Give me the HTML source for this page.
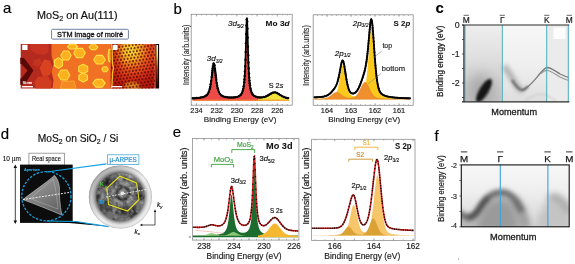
<!DOCTYPE html>
<html><head><meta charset="utf-8"><style>
html,body{margin:0;padding:0;background:#fff;width:575px;height:264px;overflow:hidden}
svg{display:block;font-family:"Liberation Sans", sans-serif;will-change:transform}
</style></head><body>
<svg width="575" height="264" viewBox="0 0 575 264">
<rect width="575" height="264" fill="#fff"/>
<text x="3.0" y="12.6" font-size="15" fill="#000" font-weight="normal" text-anchor="start"  stroke="#000" stroke-width="0.16">a</text>
<text x="173.6" y="13.8" font-size="15" fill="#000" font-weight="normal" text-anchor="start"  stroke="#000" stroke-width="0.16">b</text>
<text x="435.4" y="12.6" font-size="15" fill="#000" font-weight="bold" text-anchor="start"  stroke="#000" stroke-width="0.05">c</text>
<text x="0.8" y="138.5" font-size="15" fill="#000" font-weight="normal" text-anchor="start"  stroke="#000" stroke-width="0.16">d</text>
<text x="172.8" y="136.8" font-size="15" fill="#000" font-weight="normal" text-anchor="start"  stroke="#000" stroke-width="0.16">e</text>
<text x="434.6" y="140.8" font-size="15" fill="#000" font-weight="normal" text-anchor="start"  stroke="#000" stroke-width="0.16">f</text>
<text x="37" y="18.6" font-size="10.4" fill="#111" stroke="#111" stroke-width="0.18" textLength="80.5" lengthAdjust="spacingAndGlyphs">MoS<tspan font-size="7" dy="2">2</tspan><tspan dy="-2"> on Au(111)</tspan></text>
<rect x="51.6" y="29.3" width="76.8" height="9.8" rx="1" fill="#fff" stroke="#7080a0" stroke-width="1"/>
<text x="57.1" y="36.9" font-size="7.5" fill="#111" stroke="#111" stroke-width="0.3" textLength="66" lengthAdjust="spacingAndGlyphs">STM image of moir&#233;</text>
<defs><pattern id="moire" x="110.8" y="44" width="3.4" height="6.4" patternUnits="userSpaceOnUse" patternTransform="rotate(-8 130 66)"><circle cx="0.85" cy="1.6" r="1.15" fill="#500000" fill-opacity="0.78"/><circle cx="2.55" cy="4.8" r="1.15" fill="#500000" fill-opacity="0.78"/></pattern><radialGradient id="mg" cx="0.45" cy="0.15" r="0.8"><stop offset="0" stop-color="#fff040"/><stop offset="0.22" stop-color="#ffc028"/><stop offset="0.5" stop-color="#f25e20"/><stop offset="0.8" stop-color="#d42e14"/><stop offset="1" stop-color="#b81c0c"/></radialGradient><linearGradient id="mgl" x1="0" y1="0" x2="1" y2="0"><stop offset="0" stop-color="#c01808" stop-opacity="0.8"/><stop offset="0.3" stop-color="#c01808" stop-opacity="0"/></linearGradient><linearGradient id="cb" x1="0" y1="0" x2="0" y2="1"><stop offset="0" stop-color="#fffce0"/><stop offset="0.25" stop-color="#f8e040"/><stop offset="0.55" stop-color="#d83010"/><stop offset="1" stop-color="#200000"/></linearGradient></defs>
<rect x="20.7" y="44" width="90.5" height="44.5" fill="#b42a1e"/>
<path d="M30,44 L48.5,44 L48.5,52 L44,55 L36,53.5 L31,50 Z" fill="#c83422"/>
<path d="M34,60 L40,58 L42,63 L38,67 L33,65 Z" fill="#c43220"/>
<path d="M44,59.5 L50,60.5 L52.5,67 L50,75 L43,76.5 L39.5,68 Z" fill="#d94220"/>
<path d="M37.5,77 L48,76 L51.5,82 L51,88.5 L35.5,88.5 L34.5,82 Z" fill="#d03c20"/>
<path d="M20.7,58 L24,58.5 L33,70.5 L25,83.5 L20.7,84.5 L20.7,79 L27.5,70.5 L20.7,63.5 Z" fill="#5a0806" stroke="#5a0806" stroke-width="0.8" stroke-linejoin="round"/>
<path d="M20.7,63.5 L27.5,70.5 L20.7,79 Z" fill="#b82a1e"/>
<path d="M51.5,44 L111.2,44 L111.2,88.5 L52.5,88.5 L53.5,80 L51.5,72 L53.5,64 L51.5,55 Z" fill="#f07024"/>
<path d="M62,81.5 L74,81 L76,88.5 L60.5,88.5 Z" fill="#f38a22" stroke="#f8b030" stroke-width="0.8"/>
<path d="M71.2,55.5 L68.6,60.0 L63.4,60.0 L60.8,55.5 L63.4,51.0 L68.6,51.0 Z" fill="#fbb020" stroke="#ffe040" stroke-width="1.1" stroke-linejoin="round"/>
<path d="M62.5,65.7 L58.5,68.4 L54.5,65.7 L54.5,60.3 L58.5,57.6 L62.5,60.3 Z" fill="#fbb020" stroke="#ffe040" stroke-width="1.1" stroke-linejoin="round"/>
<path d="M77.7,46.6 L75.1,49.0 L69.9,49.0 L67.3,46.6 L69.9,44.2 L75.1,44.2 Z" fill="#fbb020" stroke="#ffe040" stroke-width="1.1" stroke-linejoin="round"/>
<path d="M85.3,53.0 L82.4,57.6 L76.6,57.6 L73.7,53.0 L76.6,48.4 L82.4,48.4 Z" fill="#fbb020" stroke="#ffe040" stroke-width="1.1" stroke-linejoin="round"/>
<path d="M97.9,47.2 L95.7,49.6 L91.3,49.6 L89.1,47.2 L91.3,44.8 L95.7,44.8 Z" fill="#fbb020" stroke="#ffe040" stroke-width="1.1" stroke-linejoin="round"/>
<path d="M105.4,59.7 L102.5,64.0 L96.5,64.0 L93.6,59.7 L96.5,55.4 L102.5,55.4 Z" fill="#fbb020" stroke="#ffe040" stroke-width="1.1" stroke-linejoin="round"/>
<path d="M69.9,75.0 L67.0,80.0 L61.1,80.0 L58.1,75.0 L61.0,70.0 L67.0,70.0 Z" fill="#fbb020" stroke="#ffe040" stroke-width="1.1" stroke-linejoin="round"/>
<path d="M87.7,71.4 L83.2,73.8 L78.7,71.4 L78.7,66.6 L83.2,64.2 L87.7,66.6 Z" fill="#fbb020" stroke="#ffe040" stroke-width="1.1" stroke-linejoin="round"/>
<path d="M87.5,79.8 L83.2,82.1 L78.9,79.8 L78.9,75.2 L83.2,72.9 L87.5,75.2 Z" fill="#fbb020" stroke="#ffe040" stroke-width="1.1" stroke-linejoin="round"/>
<path d="M108.2,69.2 L106.6,71.7 L103.4,71.7 L101.8,69.2 L103.4,66.7 L106.6,66.7 Z" fill="#fbb020" stroke="#ffe040" stroke-width="1.1" stroke-linejoin="round"/>
<path d="M105.2,83.2 L102.1,87.1 L95.9,87.1 L92.8,83.2 L95.9,79.3 L102.1,79.3 Z" fill="#fbb020" stroke="#ffe040" stroke-width="1.1" stroke-linejoin="round"/>
<path d="M112.0,55.5 L111.0,61.6 L109.0,61.6 L108.0,55.5 L109.0,49.4 L111.0,49.4 Z" fill="#fbb020" stroke="#ffe040" stroke-width="1.1" stroke-linejoin="round"/>
<rect x="22.2" y="44.8" width="5.3" height="5.2" fill="#fff"/>
<rect x="22" y="86" width="11" height="1.4" fill="#fff"/>
<text x="22.7" y="83.8" font-size="3.6" fill="#fff" font-weight="normal" text-anchor="start" textLength="9.5" lengthAdjust="spacingAndGlyphs"  stroke="#fff" stroke-width="0.16">55 nm</text>
<rect x="110.8" y="44" width="44" height="44.5" fill="url(#mg)"/>
<rect x="110.8" y="44" width="44" height="44.5" fill="url(#mgl)"/>
<clipPath id="mclip"><rect x="110.8" y="44" width="44" height="44.5"/></clipPath>
<ellipse cx="132" cy="86" rx="8" ry="4" fill="#ffd030" opacity="0.6" filter="url(#bl1)" clip-path="url(#mclip)"/>
<rect x="110.8" y="44" width="44" height="44.5" fill="url(#moire)"/>
<path d="M111.2,44 C113.5,52 110.8,60 113.5,68 C111,76 113.5,82 111.2,88.5" stroke="#f8c030" stroke-width="1.3" fill="none"/>
<rect x="112.7" y="44.8" width="4.8" height="5.2" fill="#fff"/>
<rect x="111.8" y="86" width="10.4" height="1.3" fill="#fff"/>
<rect x="155.3" y="44" width="3.8" height="44.5" fill="#140606"/>
<rect x="156.4" y="45" width="1.6" height="42.5" fill="url(#cb)"/>
<path d="M192.70,100.80 L192.70,98.30 L192.95,98.29 L193.20,98.28 L193.45,98.26 L193.70,98.25 L193.95,98.24 L194.20,98.23 L194.45,98.21 L194.70,98.20 L194.95,98.18 L195.20,98.17 L195.45,98.15 L195.70,98.13 L195.95,98.12 L196.20,98.10 L196.45,98.08 L196.70,98.06 L196.95,98.04 L197.20,98.02 L197.45,98.00 L197.70,97.97 L197.95,97.95 L198.20,97.92 L198.45,97.90 L198.70,97.87 L198.95,97.84 L199.20,97.81 L199.45,97.78 L199.70,97.74 L199.95,97.71 L200.20,97.67 L200.45,97.63 L200.70,97.59 L200.95,97.54 L201.20,97.50 L201.45,97.45 L201.70,97.40 L201.95,97.34 L202.20,97.28 L202.45,97.22 L202.70,97.16 L202.95,97.09 L203.20,97.01 L203.45,96.93 L203.70,96.85 L203.95,96.75 L204.20,96.66 L204.45,96.55 L204.70,96.44 L204.95,96.32 L205.20,96.19 L205.45,96.04 L205.70,95.89 L205.95,95.72 L206.20,95.54 L206.45,95.33 L206.70,95.11 L206.95,94.87 L207.20,94.59 L207.45,94.29 L207.70,93.95 L207.95,93.57 L208.20,93.14 L208.45,92.65 L208.70,92.11 L208.95,91.48 L209.20,90.78 L209.45,89.99 L209.70,89.09 L209.95,88.08 L210.20,86.94 L210.45,85.66 L210.70,84.24 L210.95,82.67 L211.20,80.94 L211.45,79.05 L211.70,77.03 L211.95,74.90 L212.20,72.70 L212.45,70.49 L212.70,68.38 L212.95,66.47 L213.20,64.89 L213.45,63.77 L213.70,63.22 L213.95,63.28 L214.20,63.95 L214.45,65.16 L214.70,66.81 L214.95,68.77 L215.20,70.91 L215.45,73.11 L215.70,75.30 L215.95,77.41 L216.20,79.40 L216.45,81.25 L216.70,82.94 L216.95,84.48 L217.20,85.87 L217.45,87.12 L217.70,88.22 L217.95,89.21 L218.20,90.08 L218.45,90.85 L218.70,91.53 L218.95,92.13 L219.20,92.66 L219.45,93.13 L219.70,93.55 L219.95,93.91 L220.20,94.24 L220.45,94.53 L220.70,94.79 L220.95,95.03 L221.20,95.24 L221.45,95.44 L221.70,95.61 L221.95,95.77 L222.20,95.92 L222.45,96.05 L222.70,96.18 L222.95,96.29 L223.20,96.39 L223.45,96.49 L223.70,96.58 L223.95,96.66 L224.20,96.74 L224.45,96.81 L224.70,96.88 L224.95,96.94 L225.20,97.00 L225.45,97.05 L225.70,97.10 L225.95,97.15 L226.20,97.19 L226.45,97.23 L226.70,97.26 L226.95,97.30 L227.20,97.33 L227.45,97.36 L227.70,97.38 L227.95,97.41 L228.20,97.43 L228.45,97.45 L228.70,97.47 L228.95,97.48 L229.20,97.50 L229.45,97.51 L229.70,97.52 L229.95,97.53 L230.20,97.54 L230.45,97.54 L230.70,97.55 L230.95,97.55 L231.20,97.55 L231.45,97.55 L231.70,97.55 L231.95,97.54 L232.20,97.54 L232.45,97.53 L232.70,97.52 L232.95,97.51 L233.20,97.49 L233.45,97.48 L233.70,97.46 L233.95,97.44 L234.20,97.42 L234.45,97.39 L234.70,97.37 L234.95,97.34 L235.20,97.30 L235.45,97.27 L235.70,97.23 L235.95,97.19 L236.20,97.14 L236.45,97.09 L236.70,97.03 L236.95,96.97 L237.20,96.90 L237.45,96.83 L237.70,96.75 L237.95,96.67 L238.20,96.57 L238.45,96.47 L238.70,96.35 L238.95,96.23 L239.20,96.09 L239.45,95.94 L239.70,95.77 L239.95,95.59 L240.20,95.38 L240.45,95.15 L240.70,94.89 L240.95,94.60 L241.20,94.27 L241.45,93.90 L241.70,93.48 L241.95,93.00 L242.20,92.45 L242.45,91.81 L242.70,91.06 L242.95,90.18 L243.20,89.15 L243.45,87.90 L243.70,86.40 L243.95,84.56 L244.20,82.29 L244.45,79.48 L244.70,75.99 L244.95,71.66 L245.20,66.31 L245.45,59.80 L245.70,52.06 L245.95,43.25 L246.20,33.98 L246.45,25.51 L246.70,19.69 L246.95,18.22 L247.20,21.58 L247.45,28.70 L247.70,37.69 L247.95,46.90 L248.20,55.33 L248.45,62.59 L248.70,68.62 L248.95,73.55 L249.20,77.53 L249.45,80.74 L249.70,83.32 L249.95,85.41 L250.20,87.11 L250.45,88.51 L250.70,89.67 L250.95,90.64 L251.20,91.47 L251.45,92.18 L251.70,92.79 L251.95,93.32 L252.20,93.78 L252.45,94.19 L252.70,94.54 L252.95,94.86 L253.20,95.15 L253.45,95.40 L253.70,95.63 L253.95,95.83 L254.20,96.02 L254.45,96.19 L254.70,96.34 L254.95,96.48 L255.20,96.61 L255.45,96.73 L255.70,96.84 L255.95,96.94 L256.20,97.03 L256.45,97.11 L256.70,97.19 L256.95,97.27 L257.20,97.33 L257.45,97.40 L257.70,97.46 L257.95,97.51 L258.20,97.57 L258.45,97.61 L258.70,97.66 L258.95,97.70 L259.20,97.74 L259.45,97.78 L259.70,97.82 L259.95,97.85 L260.20,97.89 L260.45,97.92 L260.70,97.94 L260.95,97.97 L261.20,98.00 L261.45,98.02 L261.70,98.05 L261.95,98.07 L261.95,100.80 Z" fill="#ee4a48"/>
<path d="M258.00,100.80 L258.00,98.71 L258.25,98.69 L258.50,98.68 L258.75,98.66 L259.00,98.64 L259.25,98.63 L259.50,98.61 L259.75,98.58 L260.00,98.56 L260.25,98.54 L260.50,98.51 L260.75,98.48 L261.00,98.45 L261.25,98.41 L261.50,98.37 L261.75,98.33 L262.00,98.29 L262.25,98.24 L262.50,98.19 L262.75,98.14 L263.00,98.08 L263.25,98.02 L263.50,97.95 L263.75,97.88 L264.00,97.80 L264.25,97.73 L264.50,97.64 L264.75,97.55 L265.00,97.46 L265.25,97.36 L265.50,97.26 L265.75,97.15 L266.00,97.03 L266.25,96.92 L266.50,96.79 L266.75,96.66 L267.00,96.53 L267.25,96.39 L267.50,96.25 L267.75,96.11 L268.00,95.96 L268.25,95.81 L268.50,95.65 L268.75,95.50 L269.00,95.34 L269.25,95.18 L269.50,95.02 L269.75,94.85 L270.00,94.69 L270.25,94.53 L270.50,94.38 L270.75,94.22 L271.00,94.07 L271.25,93.92 L271.50,93.78 L271.75,93.64 L272.00,93.51 L272.25,93.39 L272.50,93.28 L272.75,93.18 L273.00,93.08 L273.25,93.00 L273.50,92.94 L273.75,92.88 L274.00,92.84 L274.25,92.81 L274.50,92.80 L274.75,92.80 L275.00,92.82 L275.25,92.85 L275.50,92.89 L275.75,92.95 L276.00,93.02 L276.25,93.10 L276.50,93.20 L276.75,93.30 L277.00,93.41 L277.25,93.54 L277.50,93.67 L277.75,93.81 L278.00,93.95 L278.25,94.10 L278.50,94.25 L278.75,94.41 L279.00,94.57 L279.25,94.73 L279.50,94.89 L279.75,95.05 L280.00,95.21 L280.25,95.37 L280.50,95.53 L280.75,95.69 L281.00,95.84 L281.25,95.99 L281.50,96.14 L281.75,96.28 L282.00,96.42 L282.25,96.56 L282.50,96.69 L282.75,96.82 L283.00,96.94 L283.25,97.06 L283.50,97.17 L283.75,97.28 L284.00,97.38 L284.25,97.48 L284.50,97.57 L284.75,97.66 L285.00,97.74 L285.25,97.82 L285.50,97.89 L285.75,97.96 L286.00,98.03 L286.25,98.09 L286.50,98.15 L286.75,98.20 L287.00,98.25 L287.25,98.30 L287.50,98.34 L287.75,98.38 L288.00,98.42 L288.25,98.45 L288.50,98.48 L288.75,98.51 L289.00,98.54 L289.00,100.80 Z" fill="#f2e23a"/>
<path d="M192.7,100.2 H289.2" stroke="#f08a30" stroke-width="1.0"/>
<path d="M192.70,98.29 L192.95,98.28 L193.20,98.26 L193.45,98.25 L193.70,98.24 L193.95,98.23 L194.20,98.21 L194.45,98.20 L194.70,98.18 L194.95,98.17 L195.20,98.15 L195.45,98.14 L195.70,98.12 L195.95,98.10 L196.20,98.09 L196.45,98.07 L196.70,98.05 L196.95,98.03 L197.20,98.01 L197.45,97.98 L197.70,97.96 L197.95,97.93 L198.20,97.91 L198.45,97.88 L198.70,97.85 L198.95,97.83 L199.20,97.79 L199.45,97.76 L199.70,97.73 L199.95,97.69 L200.20,97.65 L200.45,97.62 L200.70,97.57 L200.95,97.53 L201.20,97.48 L201.45,97.43 L201.70,97.38 L201.95,97.33 L202.20,97.27 L202.45,97.21 L202.70,97.14 L202.95,97.07 L203.20,97.00 L203.45,96.92 L203.70,96.83 L203.95,96.74 L204.20,96.64 L204.45,96.54 L204.70,96.42 L204.95,96.30 L205.20,96.17 L205.45,96.03 L205.70,95.87 L205.95,95.70 L206.20,95.52 L206.45,95.32 L206.70,95.09 L206.95,94.85 L207.20,94.57 L207.45,94.27 L207.70,93.93 L207.95,93.55 L208.20,93.12 L208.45,92.64 L208.70,92.09 L208.95,91.47 L209.20,90.76 L209.45,89.97 L209.70,89.07 L209.95,88.06 L210.20,86.92 L210.45,85.64 L210.70,84.22 L210.95,82.65 L211.20,80.92 L211.45,79.03 L211.70,77.01 L211.95,74.88 L212.20,72.68 L212.45,70.47 L212.70,68.36 L212.95,66.45 L213.20,64.87 L213.45,63.75 L213.70,63.20 L213.95,63.26 L214.20,63.93 L214.45,65.14 L214.70,66.79 L214.95,68.75 L215.20,70.88 L215.45,73.09 L215.70,75.28 L215.95,77.39 L216.20,79.38 L216.45,81.23 L216.70,82.92 L216.95,84.46 L217.20,85.85 L217.45,87.09 L217.70,88.20 L217.95,89.18 L218.20,90.06 L218.45,90.83 L218.70,91.51 L218.95,92.11 L219.20,92.64 L219.45,93.11 L219.70,93.52 L219.95,93.89 L220.20,94.21 L220.45,94.51 L220.70,94.77 L220.95,95.00 L221.20,95.22 L221.45,95.41 L221.70,95.58 L221.95,95.74 L222.20,95.89 L222.45,96.02 L222.70,96.15 L222.95,96.26 L223.20,96.37 L223.45,96.46 L223.70,96.55 L223.95,96.63 L224.20,96.71 L224.45,96.78 L224.70,96.85 L224.95,96.91 L225.20,96.97 L225.45,97.02 L225.70,97.07 L225.95,97.11 L226.20,97.16 L226.45,97.19 L226.70,97.23 L226.95,97.26 L227.20,97.29 L227.45,97.32 L227.70,97.35 L227.95,97.37 L228.20,97.39 L228.45,97.41 L228.70,97.43 L228.95,97.45 L229.20,97.46 L229.45,97.47 L229.70,97.48 L229.95,97.49 L230.20,97.50 L230.45,97.50 L230.70,97.51 L230.95,97.51 L231.20,97.51 L231.45,97.51 L231.70,97.51 L231.95,97.50 L232.20,97.49 L232.45,97.49 L232.70,97.48 L232.95,97.46 L233.20,97.45 L233.45,97.43 L233.70,97.41 L233.95,97.39 L234.20,97.37 L234.45,97.35 L234.70,97.32 L234.95,97.29 L235.20,97.25 L235.45,97.22 L235.70,97.18 L235.95,97.13 L236.20,97.09 L236.45,97.04 L236.70,96.98 L236.95,96.92 L237.20,96.85 L237.45,96.78 L237.70,96.70 L237.95,96.61 L238.20,96.51 L238.45,96.41 L238.70,96.30 L238.95,96.17 L239.20,96.03 L239.45,95.88 L239.70,95.71 L239.95,95.52 L240.20,95.31 L240.45,95.08 L240.70,94.82 L240.95,94.53 L241.20,94.20 L241.45,93.83 L241.70,93.41 L241.95,92.93 L242.20,92.37 L242.45,91.73 L242.70,90.99 L242.95,90.11 L243.20,89.07 L243.45,87.82 L243.70,86.32 L243.95,84.48 L244.20,82.21 L244.45,79.40 L244.70,75.91 L244.95,71.57 L245.20,66.23 L245.45,59.71 L245.70,51.97 L245.95,43.16 L246.20,33.88 L246.45,25.42 L246.70,19.59 L246.95,18.12 L247.20,21.48 L247.45,28.60 L247.70,37.59 L247.95,46.79 L248.20,55.22 L248.45,62.48 L248.70,68.51 L248.95,73.44 L249.20,77.42 L249.45,80.62 L249.70,83.20 L249.95,85.28 L250.20,86.98 L250.45,88.38 L250.70,89.54 L250.95,90.51 L251.20,91.34 L251.45,92.04 L251.70,92.65 L251.95,93.17 L252.20,93.63 L252.45,94.04 L252.70,94.39 L252.95,94.71 L253.20,94.99 L253.45,95.24 L253.70,95.46 L253.95,95.66 L254.20,95.84 L254.45,96.01 L254.70,96.16 L254.95,96.29 L255.20,96.41 L255.45,96.53 L255.70,96.63 L255.95,96.72 L256.20,96.80 L256.45,96.88 L256.70,96.95 L256.95,97.02 L257.20,97.08 L257.45,97.13 L257.70,97.18 L257.95,97.22 L258.20,97.26 L258.45,97.29 L258.70,97.33 L258.95,97.35 L259.20,97.37 L259.45,97.39 L259.70,97.41 L259.95,97.42 L260.20,97.43 L260.45,97.43 L260.70,97.43 L260.95,97.42 L261.20,97.42 L261.45,97.40 L261.70,97.39 L261.95,97.37 L262.20,97.34 L262.45,97.31 L262.70,97.28 L262.95,97.24 L263.20,97.20 L263.45,97.15 L263.70,97.10 L263.95,97.04 L264.20,96.97 L264.45,96.91 L264.70,96.83 L264.95,96.75 L265.20,96.67 L265.45,96.58 L265.70,96.48 L265.95,96.38 L266.20,96.27 L266.45,96.16 L266.70,96.05 L266.95,95.92 L267.20,95.80 L267.45,95.67 L267.70,95.53 L267.95,95.39 L268.20,95.25 L268.45,95.10 L268.70,94.95 L268.95,94.80 L269.20,94.65 L269.45,94.50 L269.70,94.34 L269.95,94.19 L270.20,94.03 L270.45,93.88 L270.70,93.73 L270.95,93.58 L271.20,93.44 L271.45,93.30 L271.70,93.17 L271.95,93.04 L272.20,92.93 L272.45,92.82 L272.70,92.72 L272.95,92.63 L273.20,92.55 L273.45,92.48 L273.70,92.43 L273.95,92.39 L274.20,92.37 L274.45,92.35 L274.70,92.36 L274.95,92.37 L275.20,92.40 L275.45,92.45 L275.70,92.51 L275.95,92.58 L276.20,92.66 L276.45,92.76 L276.70,92.86 L276.95,92.98 L277.20,93.10 L277.45,93.23 L277.70,93.37 L277.95,93.52 L278.20,93.67 L278.45,93.82 L278.70,93.98 L278.95,94.14 L279.20,94.31 L279.45,94.47 L279.70,94.63 L279.95,94.80 L280.20,94.96 L280.45,95.12 L280.70,95.28 L280.95,95.44 L281.20,95.59 L281.45,95.74 L281.70,95.89 L281.95,96.03 L282.20,96.17 L282.45,96.31 L282.70,96.44 L282.95,96.56 L283.20,96.68 L283.45,96.80 L283.70,96.91 L283.95,97.01 L284.20,97.11 L284.45,97.21 L284.70,97.30 L284.95,97.38 L285.20,97.46 L285.45,97.54 L285.70,97.61 L285.95,97.68 L286.20,97.74 L286.45,97.80 L286.70,97.86 L286.95,97.91 L287.20,97.96 L287.45,98.01 L287.70,98.05 L287.95,98.09 L288.20,98.12 L288.45,98.16 L288.70,98.19 L288.95,98.22 L289.20,98.24" stroke="#000" stroke-width="1.7" fill="none" stroke-linejoin="round"/>
<g fill="#000"><circle cx="192.70" cy="98.29" r="1.2"/><circle cx="194.70" cy="98.18" r="1.2"/><circle cx="196.70" cy="98.05" r="1.2"/><circle cx="198.70" cy="97.85" r="1.2"/><circle cx="200.70" cy="97.57" r="1.2"/><circle cx="202.70" cy="97.14" r="1.2"/><circle cx="204.70" cy="96.42" r="1.2"/><circle cx="206.45" cy="95.32" r="1.2"/><circle cx="207.95" cy="93.55" r="1.2"/><circle cx="208.95" cy="91.47" r="1.2"/><circle cx="209.70" cy="89.07" r="1.2"/><circle cx="210.20" cy="86.92" r="1.2"/><circle cx="210.70" cy="84.22" r="1.2"/><circle cx="211.20" cy="80.92" r="1.2"/><circle cx="211.70" cy="77.01" r="1.2"/><circle cx="211.95" cy="74.88" r="1.2"/><circle cx="212.20" cy="72.68" r="1.2"/><circle cx="212.45" cy="70.47" r="1.2"/><circle cx="212.70" cy="68.36" r="1.2"/><circle cx="212.95" cy="66.45" r="1.2"/><circle cx="213.45" cy="63.75" r="1.2"/><circle cx="214.45" cy="65.14" r="1.2"/><circle cx="214.95" cy="68.75" r="1.2"/><circle cx="215.20" cy="70.88" r="1.2"/><circle cx="215.45" cy="73.09" r="1.2"/><circle cx="215.70" cy="75.28" r="1.2"/><circle cx="215.95" cy="77.39" r="1.2"/><circle cx="216.20" cy="79.38" r="1.2"/><circle cx="216.70" cy="82.92" r="1.2"/><circle cx="217.20" cy="85.85" r="1.2"/><circle cx="217.70" cy="88.20" r="1.2"/><circle cx="218.20" cy="90.06" r="1.2"/><circle cx="218.95" cy="92.11" r="1.2"/><circle cx="219.95" cy="93.89" r="1.2"/><circle cx="221.45" cy="95.41" r="1.2"/><circle cx="223.20" cy="96.37" r="1.2"/><circle cx="225.20" cy="96.97" r="1.2"/><circle cx="227.20" cy="97.29" r="1.2"/><circle cx="229.20" cy="97.46" r="1.2"/><circle cx="231.20" cy="97.51" r="1.2"/><circle cx="233.20" cy="97.45" r="1.2"/><circle cx="235.20" cy="97.25" r="1.2"/><circle cx="237.20" cy="96.85" r="1.2"/><circle cx="239.20" cy="96.03" r="1.2"/><circle cx="240.70" cy="94.82" r="1.2"/><circle cx="241.95" cy="92.93" r="1.2"/><circle cx="242.70" cy="90.99" r="1.2"/><circle cx="243.20" cy="89.07" r="1.2"/><circle cx="243.70" cy="86.32" r="1.2"/><circle cx="244.20" cy="82.21" r="1.2"/><circle cx="244.45" cy="79.40" r="1.2"/><circle cx="244.70" cy="75.91" r="1.2"/><circle cx="244.95" cy="71.57" r="1.2"/><circle cx="245.20" cy="66.23" r="1.2"/><circle cx="245.45" cy="59.71" r="1.2"/><circle cx="245.70" cy="51.97" r="1.2"/><circle cx="245.95" cy="43.16" r="1.2"/><circle cx="246.20" cy="33.88" r="1.2"/><circle cx="246.45" cy="25.42" r="1.2"/><circle cx="246.70" cy="19.59" r="1.2"/><circle cx="247.20" cy="21.48" r="1.2"/><circle cx="247.45" cy="28.60" r="1.2"/><circle cx="247.70" cy="37.59" r="1.2"/><circle cx="247.95" cy="46.79" r="1.2"/><circle cx="248.20" cy="55.22" r="1.2"/><circle cx="248.45" cy="62.48" r="1.2"/><circle cx="248.70" cy="68.51" r="1.2"/><circle cx="248.95" cy="73.44" r="1.2"/><circle cx="249.20" cy="77.42" r="1.2"/><circle cx="249.45" cy="80.62" r="1.2"/><circle cx="249.70" cy="83.20" r="1.2"/><circle cx="249.95" cy="85.28" r="1.2"/><circle cx="250.45" cy="88.38" r="1.2"/><circle cx="250.95" cy="90.51" r="1.2"/><circle cx="251.70" cy="92.65" r="1.2"/><circle cx="252.70" cy="94.39" r="1.2"/><circle cx="254.20" cy="95.84" r="1.2"/><circle cx="255.95" cy="96.72" r="1.2"/><circle cx="257.95" cy="97.22" r="1.2"/><circle cx="259.95" cy="97.42" r="1.2"/><circle cx="261.95" cy="97.37" r="1.2"/><circle cx="263.95" cy="97.04" r="1.2"/><circle cx="265.95" cy="96.38" r="1.2"/><circle cx="267.70" cy="95.53" r="1.2"/><circle cx="269.45" cy="94.50" r="1.2"/><circle cx="271.20" cy="93.44" r="1.2"/><circle cx="272.95" cy="92.63" r="1.2"/><circle cx="274.95" cy="92.37" r="1.2"/><circle cx="276.95" cy="92.98" r="1.2"/><circle cx="278.70" cy="93.98" r="1.2"/><circle cx="280.45" cy="95.12" r="1.2"/><circle cx="282.20" cy="96.17" r="1.2"/><circle cx="283.95" cy="97.01" r="1.2"/><circle cx="285.95" cy="97.68" r="1.2"/><circle cx="287.95" cy="98.09" r="1.2"/></g>
<rect x="191.2" y="14.3" width="101.0" height="90.9" fill="none" stroke="#8c8c8c" stroke-width="0.8"/>
<path d="M196.50,105.2 v-2.2 M196.50,14.3 v2.2 M216.70,105.2 v-2.2 M216.70,14.3 v2.2 M236.90,105.2 v-2.2 M236.90,14.3 v2.2 M257.10,105.2 v-2.2 M257.10,14.3 v2.2 M277.30,105.2 v-2.2 M277.30,14.3 v2.2 M191.45,105.2 v-1.2 M191.45,14.3 v1.2 M196.50,105.2 v-1.2 M196.50,14.3 v1.2 M201.55,105.2 v-1.2 M201.55,14.3 v1.2 M206.60,105.2 v-1.2 M206.60,14.3 v1.2 M211.65,105.2 v-1.2 M211.65,14.3 v1.2 M216.70,105.2 v-1.2 M216.70,14.3 v1.2 M221.75,105.2 v-1.2 M221.75,14.3 v1.2 M226.80,105.2 v-1.2 M226.80,14.3 v1.2 M231.85,105.2 v-1.2 M231.85,14.3 v1.2 M236.90,105.2 v-1.2 M236.90,14.3 v1.2 M241.95,105.2 v-1.2 M241.95,14.3 v1.2 M247.00,105.2 v-1.2 M247.00,14.3 v1.2 M252.05,105.2 v-1.2 M252.05,14.3 v1.2 M257.10,105.2 v-1.2 M257.10,14.3 v1.2 M262.15,105.2 v-1.2 M262.15,14.3 v1.2 M267.20,105.2 v-1.2 M267.20,14.3 v1.2 M272.25,105.2 v-1.2 M272.25,14.3 v1.2 M277.30,105.2 v-1.2 M277.30,14.3 v1.2 M282.35,105.2 v-1.2 M282.35,14.3 v1.2 M287.40,105.2 v-1.2 M287.40,14.3 v1.2" stroke="#8c8c8c" stroke-width="0.6" fill="none"/>
<text x="196.5" y="112.6" font-size="7.4" fill="#222" font-weight="normal" text-anchor="middle"  stroke="#222" stroke-width="0.16">234</text>
<text x="216.7" y="112.6" font-size="7.4" fill="#222" font-weight="normal" text-anchor="middle"  stroke="#222" stroke-width="0.16">232</text>
<text x="236.9" y="112.6" font-size="7.4" fill="#222" font-weight="normal" text-anchor="middle"  stroke="#222" stroke-width="0.16">230</text>
<text x="257.1" y="112.6" font-size="7.4" fill="#222" font-weight="normal" text-anchor="middle"  stroke="#222" stroke-width="0.16">228</text>
<text x="277.3" y="112.6" font-size="7.4" fill="#222" font-weight="normal" text-anchor="middle"  stroke="#222" stroke-width="0.16">226</text>
<text x="203.8" y="122.2" font-size="8" fill="#222" font-weight="normal" text-anchor="start" textLength="72.7" lengthAdjust="spacingAndGlyphs"  stroke="#222" stroke-width="0.16">Binding Energy (eV)</text>
<text transform="translate(188.6,85) rotate(-90)" font-size="8.3" fill="#1a1a1a" stroke="#1a1a1a" stroke-width="0.08" textLength="60.5" lengthAdjust="spacingAndGlyphs">Intensity (arb.units)</text>
<text x="228" y="26" font-size="8" fill="#111" font-style="italic" stroke="#111" stroke-width="0.16">3<tspan>d</tspan><tspan font-size="5" dy="1.5">5/2</tspan></text>
<text x="206.8" y="61.3" font-size="8" fill="#111" font-style="italic" stroke="#111" stroke-width="0.16">3<tspan>d</tspan><tspan font-size="5" dy="1.5">3/2</tspan></text>
<text x="265.6" y="26.3" font-size="7.6" fill="#111" font-weight="bold" textLength="24" lengthAdjust="spacingAndGlyphs" stroke="#111" stroke-width="0.05">Mo 3<tspan font-style="italic">d</tspan></text>
<text x="268.7" y="88.2" font-size="7.3" fill="#111" stroke="#111" stroke-width="0.16">S 2<tspan font-style="italic">s</tspan></text>
<path d="M314.20,99.30 L314.20,98.90 L314.45,98.90 L314.70,98.89 L314.95,98.89 L315.20,98.88 L315.45,98.87 L315.70,98.87 L315.95,98.86 L316.20,98.86 L316.45,98.85 L316.70,98.84 L316.95,98.83 L317.20,98.83 L317.45,98.82 L317.70,98.81 L317.95,98.80 L318.20,98.79 L318.45,98.79 L318.70,98.78 L318.95,98.77 L319.20,98.76 L319.45,98.75 L319.70,98.74 L319.95,98.73 L320.20,98.72 L320.45,98.71 L320.70,98.70 L320.95,98.69 L321.20,98.67 L321.45,98.66 L321.70,98.65 L321.95,98.64 L322.20,98.62 L322.45,98.61 L322.70,98.60 L322.95,98.58 L323.20,98.57 L323.45,98.55 L323.70,98.53 L323.95,98.52 L324.20,98.50 L324.45,98.48 L324.70,98.46 L324.95,98.44 L325.20,98.42 L325.45,98.40 L325.70,98.38 L325.95,98.36 L326.20,98.33 L326.45,98.31 L326.70,98.28 L326.95,98.26 L327.20,98.23 L327.45,98.20 L327.70,98.17 L327.95,98.14 L328.20,98.11 L328.45,98.07 L328.70,98.04 L328.95,98.00 L329.20,97.96 L329.45,97.92 L329.70,97.87 L329.95,97.82 L330.20,97.78 L330.45,97.72 L330.70,97.67 L330.95,97.61 L331.20,97.55 L331.45,97.48 L331.70,97.41 L331.95,97.33 L332.20,97.24 L332.45,97.15 L332.70,97.05 L332.95,96.94 L333.20,96.82 L333.45,96.68 L333.70,96.53 L333.95,96.36 L334.20,96.17 L334.45,95.95 L334.70,95.71 L334.95,95.44 L335.20,95.14 L335.45,94.79 L335.70,94.40 L335.95,93.97 L336.20,93.48 L336.45,92.93 L336.70,92.32 L336.95,91.65 L337.20,90.90 L337.45,90.08 L337.70,89.18 L337.95,88.20 L338.20,87.14 L338.45,86.00 L338.70,84.79 L338.95,83.49 L339.20,82.13 L339.45,80.71 L339.70,79.23 L339.95,77.72 L340.20,76.18 L340.45,74.64 L340.70,73.11 L340.95,71.63 L341.20,70.23 L341.45,68.94 L341.70,67.79 L341.95,66.82 L342.20,66.07 L342.45,65.55 L342.70,65.30 L342.95,65.32 L343.20,65.60 L343.45,66.15 L343.70,66.93 L343.95,67.92 L344.20,69.09 L344.45,70.38 L344.70,71.79 L344.95,73.26 L345.20,74.77 L345.45,76.29 L345.70,77.81 L345.95,79.30 L346.20,80.74 L346.45,82.14 L346.70,83.47 L346.95,84.72 L347.20,85.90 L347.45,87.01 L347.70,88.03 L347.95,88.97 L348.20,89.83 L348.45,90.61 L348.70,91.32 L348.95,91.96 L349.20,92.54 L349.45,93.05 L349.70,93.50 L349.95,93.90 L350.20,94.25 L350.45,94.56 L350.70,94.83 L350.95,95.07 L351.20,95.28 L351.45,95.46 L351.70,95.61 L351.95,95.75 L352.20,95.86 L352.45,95.96 L352.70,96.05 L352.95,96.12 L353.20,96.19 L353.45,96.24 L353.70,96.28 L353.95,96.32 L354.20,96.35 L354.45,96.37 L354.70,96.39 L354.95,96.40 L355.20,96.41 L355.45,96.41 L355.70,96.40 L355.95,96.39 L356.20,96.38 L356.45,96.36 L356.70,96.34 L356.95,96.31 L357.20,96.28 L357.45,96.24 L357.70,96.20 L357.95,96.15 L358.20,96.10 L358.45,96.04 L358.70,95.98 L358.95,95.90 L359.20,95.83 L359.45,95.74 L359.70,95.65 L359.95,95.55 L360.20,95.43 L360.45,95.31 L360.70,95.18 L360.95,95.03 L361.20,94.87 L361.45,94.69 L361.70,94.48 L361.95,94.26 L362.20,94.01 L362.45,93.72 L362.70,93.40 L362.95,93.04 L363.20,92.63 L363.45,92.16 L363.70,91.63 L363.95,91.03 L364.20,90.35 L364.45,89.57 L364.70,88.69 L364.95,87.70 L365.20,86.58 L365.45,85.32 L365.70,83.92 L365.95,82.36 L366.20,80.64 L366.45,78.74 L366.70,76.66 L366.95,74.40 L367.20,71.95 L367.45,69.33 L367.70,66.53 L367.95,63.57 L368.20,60.47 L368.45,57.25 L368.70,53.93 L368.95,50.55 L369.20,47.16 L369.45,43.81 L369.70,40.57 L369.95,37.49 L370.20,34.66 L370.45,32.17 L370.70,30.09 L370.95,28.51 L371.20,27.48 L371.45,27.05 L371.70,27.24 L371.95,28.04 L372.20,29.42 L372.45,31.32 L372.70,33.66 L372.95,36.38 L373.20,39.37 L373.45,42.57 L373.70,45.90 L373.95,49.29 L374.20,52.68 L374.45,56.04 L374.70,59.31 L374.95,62.48 L375.20,65.50 L375.45,68.38 L375.70,71.08 L375.95,73.61 L376.20,75.95 L376.45,78.11 L376.70,80.09 L376.95,81.90 L377.20,83.53 L377.45,85.01 L377.70,86.33 L377.95,87.52 L378.20,88.57 L378.45,89.51 L378.70,90.34 L378.95,91.07 L379.20,91.72 L379.45,92.29 L379.70,92.79 L379.95,93.24 L380.20,93.63 L380.45,93.99 L380.70,94.30 L380.95,94.58 L381.20,94.83 L381.45,95.06 L381.70,95.27 L381.95,95.45 L382.20,95.63 L382.45,95.79 L382.70,95.93 L382.95,96.07 L383.20,96.20 L383.45,96.31 L383.70,96.43 L383.95,96.53 L384.20,96.63 L384.45,96.72 L384.70,96.81 L384.95,96.89 L385.20,96.97 L385.45,97.05 L385.70,97.12 L385.95,97.19 L386.20,97.25 L386.45,97.32 L386.70,97.38 L386.95,97.43 L387.20,97.49 L387.45,97.54 L387.70,97.59 L387.95,97.64 L388.20,97.68 L388.45,97.72 L388.70,97.77 L388.95,97.81 L389.20,97.85 L389.45,97.88 L389.70,97.92 L389.95,97.95 L390.20,97.99 L390.45,98.02 L390.70,98.05 L390.95,98.08 L391.20,98.11 L391.45,98.13 L391.70,98.16 L391.95,98.19 L392.20,98.21 L392.45,98.23 L392.70,98.26 L392.95,98.28 L393.20,98.30 L393.45,98.32 L393.70,98.34 L393.95,98.36 L394.20,98.38 L394.45,98.40 L394.70,98.42 L394.95,98.44 L395.20,98.45 L395.45,98.47 L395.70,98.49 L395.95,98.50 L396.20,98.52 L396.45,98.53 L396.70,98.54 L396.95,98.56 L397.20,98.57 L397.45,98.58 L397.70,98.60 L397.95,98.61 L398.20,98.62 L398.45,98.63 L398.70,98.64 L398.95,98.66 L399.20,98.67 L399.45,98.68 L399.70,98.69 L399.95,98.70 L400.20,98.71 L400.45,98.72 L400.70,98.73 L400.95,98.73 L401.20,98.74 L401.45,98.75 L401.70,98.76 L401.95,98.77 L402.20,98.78 L402.45,98.78 L402.70,98.79 L402.95,98.80 L403.20,98.81 L403.45,98.81 L403.70,98.82 L403.95,98.83 L404.20,98.83 L404.45,98.84 L404.70,98.85 L404.95,98.85 L405.20,98.86 L405.45,98.87 L405.70,98.87 L405.95,98.88 L406.20,98.88 L406.45,98.89 L406.70,98.89 L406.95,98.90 L407.20,98.91 L407.45,98.91 L407.70,98.92 L407.95,98.92 L408.20,98.92 L408.45,98.93 L408.70,98.93 L408.95,98.94 L409.20,98.94 L409.45,98.95 L409.70,98.95 L409.95,98.96 L410.20,98.96 L410.20,99.30 Z" fill="#fbc81e"/>
<path d="M314.20,99.30 L314.20,99.10 L314.45,99.10 L314.70,99.10 L314.95,99.09 L315.20,99.09 L315.45,99.09 L315.70,99.08 L315.95,99.08 L316.20,99.07 L316.45,99.07 L316.70,99.06 L316.95,99.06 L317.20,99.05 L317.45,99.05 L317.70,99.04 L317.95,99.03 L318.20,99.03 L318.45,99.02 L318.70,99.01 L318.95,99.01 L319.20,99.00 L319.45,98.99 L319.70,98.98 L319.95,98.97 L320.20,98.96 L320.45,98.94 L320.70,98.93 L320.95,98.92 L321.20,98.90 L321.45,98.89 L321.70,98.87 L321.95,98.85 L322.20,98.83 L322.45,98.80 L322.70,98.78 L322.95,98.75 L323.20,98.72 L323.45,98.69 L323.70,98.66 L323.95,98.62 L324.20,98.58 L324.45,98.53 L324.70,98.48 L324.95,98.43 L325.20,98.37 L325.45,98.31 L325.70,98.24 L325.95,98.17 L326.20,98.10 L326.45,98.02 L326.70,97.93 L326.95,97.83 L327.20,97.74 L327.45,97.63 L327.70,97.52 L327.95,97.40 L328.20,97.28 L328.45,97.15 L328.70,97.01 L328.95,96.86 L329.20,96.71 L329.45,96.56 L329.70,96.40 L329.95,96.23 L330.20,96.06 L330.45,95.88 L330.70,95.70 L330.95,95.51 L331.20,95.33 L331.45,95.14 L331.70,94.94 L331.95,94.75 L332.20,94.56 L332.45,94.36 L332.70,94.17 L332.95,93.98 L333.20,93.80 L333.45,93.62 L333.70,93.45 L333.95,93.28 L334.20,93.12 L334.45,92.98 L334.70,92.84 L334.95,92.72 L335.20,92.61 L335.45,92.52 L335.70,92.44 L335.95,92.39 L336.20,92.34 L336.45,92.32 L336.70,92.32 L336.95,92.33 L337.20,92.36 L337.45,92.41 L337.70,92.48 L337.95,92.56 L338.20,92.66 L338.45,92.77 L338.70,92.90 L338.95,93.03 L339.20,93.18 L339.45,93.34 L339.70,93.50 L339.95,93.68 L340.20,93.85 L340.45,94.03 L340.70,94.22 L340.95,94.40 L341.20,94.59 L341.45,94.78 L341.70,94.96 L341.95,95.15 L342.20,95.33 L342.45,95.50 L342.70,95.68 L342.95,95.85 L343.20,96.01 L343.45,96.17 L343.70,96.33 L343.95,96.48 L344.20,96.62 L344.45,96.75 L344.70,96.88 L344.95,97.00 L345.20,97.12 L345.45,97.23 L345.70,97.33 L345.95,97.43 L346.20,97.51 L346.45,97.60 L346.70,97.67 L346.95,97.74 L347.20,97.81 L347.45,97.86 L347.70,97.91 L347.95,97.96 L348.20,98.00 L348.45,98.04 L348.70,98.07 L348.95,98.09 L349.20,98.11 L349.45,98.12 L349.70,98.13 L349.95,98.14 L350.20,98.13 L350.45,98.13 L350.70,98.12 L350.95,98.10 L351.20,98.08 L351.45,98.05 L351.70,98.01 L351.95,97.97 L352.20,97.92 L352.45,97.86 L352.70,97.80 L352.95,97.72 L353.20,97.64 L353.45,97.55 L353.70,97.44 L353.95,97.33 L354.20,97.20 L354.45,97.06 L354.70,96.91 L354.95,96.74 L355.20,96.56 L355.45,96.36 L355.70,96.15 L355.95,95.92 L356.20,95.67 L356.45,95.41 L356.70,95.12 L356.95,94.82 L357.20,94.49 L357.45,94.15 L357.70,93.79 L357.95,93.41 L358.20,93.01 L358.45,92.59 L358.70,92.16 L358.95,91.71 L359.20,91.25 L359.45,90.77 L359.70,90.27 L359.95,89.77 L360.20,89.26 L360.45,88.75 L360.70,88.23 L360.95,87.70 L361.20,87.19 L361.45,86.67 L361.70,86.17 L361.95,85.68 L362.20,85.20 L362.45,84.75 L362.70,84.32 L362.95,83.91 L363.20,83.55 L363.45,83.22 L363.70,82.93 L363.95,82.68 L364.20,82.49 L364.45,82.34 L364.70,82.25 L364.95,82.21 L365.20,82.23 L365.45,82.30 L365.70,82.43 L365.95,82.61 L366.20,82.84 L366.45,83.11 L366.70,83.43 L366.95,83.79 L367.20,84.18 L367.45,84.60 L367.70,85.05 L367.95,85.52 L368.20,86.01 L368.45,86.51 L368.70,87.02 L368.95,87.54 L369.20,88.07 L369.45,88.59 L369.70,89.11 L369.95,89.63 L370.20,90.14 L370.45,90.64 L370.70,91.13 L370.95,91.60 L371.20,92.06 L371.45,92.51 L371.70,92.93 L371.95,93.34 L372.20,93.74 L372.45,94.11 L372.70,94.46 L372.95,94.80 L373.20,95.11 L373.45,95.41 L373.70,95.69 L373.95,95.95 L374.20,96.20 L374.45,96.42 L374.70,96.63 L374.95,96.83 L375.20,97.01 L375.45,97.17 L375.70,97.32 L375.95,97.46 L376.20,97.59 L376.45,97.71 L376.70,97.82 L376.95,97.91 L377.20,98.00 L377.45,98.08 L377.70,98.16 L377.95,98.22 L378.20,98.28 L378.45,98.34 L378.70,98.39 L378.95,98.44 L379.20,98.48 L379.45,98.52 L379.70,98.55 L379.95,98.58 L380.20,98.61 L380.45,98.64 L380.70,98.66 L380.95,98.69 L381.20,98.71 L381.45,98.73 L381.70,98.75 L381.95,98.76 L382.20,98.78 L382.45,98.79 L382.70,98.81 L382.95,98.82 L383.20,98.83 L383.45,98.85 L383.70,98.86 L383.95,98.87 L384.20,98.88 L384.45,98.89 L384.70,98.90 L384.95,98.91 L385.20,98.92 L385.45,98.92 L385.70,98.93 L385.95,98.94 L386.20,98.95 L386.45,98.96 L386.70,98.96 L386.95,98.97 L387.20,98.98 L387.45,98.98 L387.70,98.99 L387.95,99.00 L388.20,99.00 L388.45,99.01 L388.70,99.01 L388.95,99.02 L389.20,99.02 L389.45,99.03 L389.70,99.03 L389.95,99.04 L390.20,99.04 L390.45,99.05 L390.70,99.05 L390.95,99.06 L391.20,99.06 L391.45,99.06 L391.70,99.07 L391.95,99.07 L392.20,99.08 L392.45,99.08 L392.70,99.08 L392.95,99.09 L393.20,99.09 L393.45,99.09 L393.70,99.10 L393.95,99.10 L394.20,99.10 L394.45,99.11 L394.70,99.11 L394.95,99.11 L395.20,99.12 L395.45,99.12 L395.70,99.12 L395.95,99.12 L396.20,99.13 L396.45,99.13 L396.70,99.13 L396.95,99.13 L397.20,99.14 L397.45,99.14 L397.70,99.14 L397.95,99.14 L398.20,99.14 L398.45,99.15 L398.70,99.15 L398.95,99.15 L399.20,99.15 L399.45,99.15 L399.70,99.16 L399.95,99.16 L400.20,99.16 L400.45,99.16 L400.70,99.16 L400.95,99.17 L401.20,99.17 L401.45,99.17 L401.70,99.17 L401.95,99.17 L402.20,99.17 L402.45,99.18 L402.70,99.18 L402.95,99.18 L403.20,99.18 L403.45,99.18 L403.70,99.18 L403.95,99.18 L404.20,99.19 L404.45,99.19 L404.70,99.19 L404.95,99.19 L405.20,99.19 L405.45,99.19 L405.70,99.19 L405.95,99.19 L406.20,99.20 L406.45,99.20 L406.70,99.20 L406.95,99.20 L407.20,99.20 L407.45,99.20 L407.70,99.20 L407.95,99.20 L408.20,99.20 L408.45,99.21 L408.70,99.21 L408.95,99.21 L409.20,99.21 L409.45,99.21 L409.70,99.21 L409.95,99.21 L410.20,99.21 L410.20,99.30 Z" fill="#f0902c" stroke="#d07020" stroke-width="0.3"/>
<path d="M314.20,97.32 L314.45,97.31 L314.70,97.30 L314.95,97.30 L315.20,97.29 L315.45,97.28 L315.70,97.27 L315.95,97.26 L316.20,97.25 L316.45,97.24 L316.70,97.23 L316.95,97.22 L317.20,97.21 L317.45,97.20 L317.70,97.19 L317.95,97.18 L318.20,97.17 L318.45,97.15 L318.70,97.14 L318.95,97.12 L319.20,97.11 L319.45,97.09 L319.70,97.08 L319.95,97.06 L320.20,97.04 L320.45,97.02 L320.70,97.00 L320.95,96.97 L321.20,96.95 L321.45,96.92 L321.70,96.89 L321.95,96.86 L322.20,96.83 L322.45,96.80 L322.70,96.76 L322.95,96.72 L323.20,96.68 L323.45,96.63 L323.70,96.58 L323.95,96.53 L324.20,96.47 L324.45,96.41 L324.70,96.35 L324.95,96.28 L325.20,96.20 L325.45,96.12 L325.70,96.04 L325.95,95.95 L326.20,95.85 L326.45,95.74 L326.70,95.63 L326.95,95.52 L327.20,95.39 L327.45,95.26 L327.70,95.12 L327.95,94.97 L328.20,94.82 L328.45,94.65 L328.70,94.48 L328.95,94.30 L329.20,94.12 L329.45,93.92 L329.70,93.72 L329.95,93.51 L330.20,93.29 L330.45,93.06 L330.70,92.83 L330.95,92.58 L331.20,92.33 L331.45,92.08 L331.70,91.82 L331.95,91.55 L332.20,91.27 L332.45,90.99 L332.70,90.70 L332.95,90.40 L333.20,90.09 L333.45,89.78 L333.70,89.46 L333.95,89.12 L334.20,88.78 L334.45,88.42 L334.70,88.05 L334.95,87.66 L335.20,87.25 L335.45,86.81 L335.70,86.35 L335.95,85.86 L336.20,85.33 L336.45,84.76 L336.70,84.15 L336.95,83.49 L337.20,82.78 L337.45,82.01 L337.70,81.18 L337.95,80.28 L338.20,79.33 L338.45,78.30 L338.70,77.21 L338.95,76.06 L339.20,74.85 L339.45,73.58 L339.70,72.27 L339.95,70.93 L340.20,69.57 L340.45,68.22 L340.70,66.88 L340.95,65.59 L341.20,64.37 L341.45,63.27 L341.70,62.31 L341.95,61.53 L342.20,60.95 L342.45,60.62 L342.70,60.54 L342.95,60.73 L343.20,61.19 L343.45,61.90 L343.70,62.84 L343.95,63.98 L344.20,65.28 L344.45,66.72 L344.70,68.25 L344.95,69.85 L345.20,71.48 L345.45,73.11 L345.70,74.73 L345.95,76.32 L346.20,77.86 L346.45,79.33 L346.70,80.74 L346.95,82.07 L347.20,83.32 L347.45,84.48 L347.70,85.55 L347.95,86.54 L348.20,87.45 L348.45,88.27 L348.70,89.01 L348.95,89.67 L349.20,90.27 L349.45,90.79 L349.70,91.26 L349.95,91.67 L350.20,92.02 L350.45,92.33 L350.70,92.59 L350.95,92.81 L351.20,93.00 L351.45,93.15 L351.70,93.27 L351.95,93.36 L352.20,93.43 L352.45,93.48 L352.70,93.50 L352.95,93.50 L353.20,93.49 L353.45,93.45 L353.70,93.39 L353.95,93.32 L354.20,93.22 L354.45,93.11 L354.70,92.97 L354.95,92.82 L355.20,92.65 L355.45,92.45 L355.70,92.24 L355.95,92.00 L356.20,91.74 L356.45,91.46 L356.70,91.15 L356.95,90.82 L357.20,90.47 L357.45,90.09 L357.70,89.69 L357.95,89.26 L358.20,88.82 L358.45,88.34 L358.70,87.85 L358.95,87.33 L359.20,86.79 L359.45,86.22 L359.70,85.64 L359.95,85.04 L360.20,84.42 L360.45,83.78 L360.70,83.13 L360.95,82.46 L361.20,81.78 L361.45,81.09 L361.70,80.39 L361.95,79.67 L362.20,78.95 L362.45,78.21 L362.70,77.46 L362.95,76.70 L363.20,75.93 L363.45,75.13 L363.70,74.31 L363.95,73.47 L364.20,72.59 L364.45,71.67 L364.70,70.70 L364.95,69.68 L365.20,68.58 L365.45,67.40 L365.70,66.12 L365.95,64.75 L366.20,63.25 L366.45,61.63 L366.70,59.87 L366.95,57.97 L367.20,55.91 L367.45,53.72 L367.70,51.37 L367.95,48.89 L368.20,46.28 L368.45,43.56 L368.70,40.75 L368.95,37.90 L369.20,35.04 L369.45,32.21 L369.70,29.49 L369.95,26.93 L370.20,24.62 L370.45,22.63 L370.70,21.04 L370.95,19.93 L371.20,19.37 L371.45,19.38 L371.70,20.00 L371.95,21.22 L372.20,22.99 L372.45,25.26 L372.70,27.96 L372.95,31.01 L373.20,34.33 L373.45,37.82 L373.70,41.43 L373.95,45.08 L374.20,48.73 L374.45,52.31 L374.70,55.80 L374.95,59.16 L375.20,62.37 L375.45,65.41 L375.70,68.27 L375.95,70.93 L376.20,73.41 L376.45,75.69 L376.70,77.78 L376.95,79.69 L377.20,81.41 L377.45,82.97 L377.70,84.37 L377.95,85.62 L378.20,86.74 L378.45,87.73 L378.70,88.62 L378.95,89.40 L379.20,90.09 L379.45,90.70 L379.70,91.24 L379.95,91.72 L380.20,92.15 L380.45,92.53 L380.70,92.87 L380.95,93.18 L381.20,93.45 L381.45,93.70 L381.70,93.93 L381.95,94.14 L382.20,94.33 L382.45,94.50 L382.70,94.67 L382.95,94.82 L383.20,94.96 L383.45,95.09 L383.70,95.22 L383.95,95.34 L384.20,95.45 L384.45,95.55 L384.70,95.65 L384.95,95.75 L385.20,95.84 L385.45,95.92 L385.70,96.01 L385.95,96.08 L386.20,96.16 L386.45,96.23 L386.70,96.30 L386.95,96.37 L387.20,96.43 L387.45,96.49 L387.70,96.55 L387.95,96.60 L388.20,96.66 L388.45,96.71 L388.70,96.76 L388.95,96.81 L389.20,96.85 L389.45,96.90 L389.70,96.94 L389.95,96.98 L390.20,97.02 L390.45,97.06 L390.70,97.10 L390.95,97.13 L391.20,97.17 L391.45,97.20 L391.70,97.24 L391.95,97.27 L392.20,97.30 L392.45,97.33 L392.70,97.36 L392.95,97.39 L393.20,97.41 L393.45,97.44 L393.70,97.47 L393.95,97.49 L394.20,97.51 L394.45,97.54 L394.70,97.56 L394.95,97.58 L395.20,97.61 L395.45,97.63 L395.70,97.65 L395.95,97.67 L396.20,97.69 L396.45,97.71 L396.70,97.73 L396.95,97.75 L397.20,97.76 L397.45,97.78 L397.70,97.80 L397.95,97.81 L398.20,97.83 L398.45,97.85 L398.70,97.86 L398.95,97.88 L399.20,97.89 L399.45,97.91 L399.70,97.92 L399.95,97.94 L400.20,97.95 L400.45,97.96 L400.70,97.98 L400.95,97.99 L401.20,98.00 L401.45,98.02 L401.70,98.03 L401.95,98.04 L402.20,98.05 L402.45,98.06 L402.70,98.07 L402.95,98.09 L403.20,98.10 L403.45,98.11 L403.70,98.12 L403.95,98.13 L404.20,98.14 L404.45,98.15 L404.70,98.16 L404.95,98.17 L405.20,98.18 L405.45,98.19 L405.70,98.20 L405.95,98.21 L406.20,98.22 L406.45,98.23 L406.70,98.23 L406.95,98.24 L407.20,98.25 L407.45,98.26 L407.70,98.27 L407.95,98.28 L408.20,98.28 L408.45,98.29 L408.70,98.30 L408.95,98.31 L409.20,98.32 L409.45,98.32 L409.70,98.33 L409.95,98.34 L410.20,98.35" stroke="#000" stroke-width="1.8" fill="none" stroke-linejoin="round"/>
<g fill="#000"><circle cx="314.20" cy="97.32" r="1.0"/><circle cx="315.95" cy="97.26" r="1.0"/><circle cx="317.70" cy="97.19" r="1.0"/><circle cx="319.45" cy="97.09" r="1.0"/><circle cx="321.20" cy="96.95" r="1.0"/><circle cx="322.95" cy="96.72" r="1.0"/><circle cx="324.70" cy="96.35" r="1.0"/><circle cx="326.45" cy="95.74" r="1.0"/><circle cx="327.95" cy="94.97" r="1.0"/><circle cx="329.45" cy="93.92" r="1.0"/><circle cx="330.70" cy="92.83" r="1.0"/><circle cx="331.95" cy="91.55" r="1.0"/><circle cx="333.20" cy="90.09" r="1.0"/><circle cx="334.20" cy="88.78" r="1.0"/><circle cx="335.20" cy="87.25" r="1.0"/><circle cx="336.20" cy="85.33" r="1.0"/><circle cx="336.95" cy="83.49" r="1.0"/><circle cx="337.70" cy="81.18" r="1.0"/><circle cx="338.20" cy="79.33" r="1.0"/><circle cx="338.70" cy="77.21" r="1.0"/><circle cx="339.20" cy="74.85" r="1.0"/><circle cx="339.70" cy="72.27" r="1.0"/><circle cx="340.20" cy="69.57" r="1.0"/><circle cx="340.70" cy="66.88" r="1.0"/><circle cx="341.20" cy="64.37" r="1.0"/><circle cx="341.70" cy="62.31" r="1.0"/><circle cx="342.45" cy="60.62" r="1.0"/><circle cx="343.45" cy="61.90" r="1.0"/><circle cx="343.95" cy="63.98" r="1.0"/><circle cx="344.45" cy="66.72" r="1.0"/><circle cx="344.95" cy="69.85" r="1.0"/><circle cx="345.20" cy="71.48" r="1.0"/><circle cx="345.45" cy="73.11" r="1.0"/><circle cx="345.70" cy="74.73" r="1.0"/><circle cx="345.95" cy="76.32" r="1.0"/><circle cx="346.45" cy="79.33" r="1.0"/><circle cx="346.95" cy="82.07" r="1.0"/><circle cx="347.45" cy="84.48" r="1.0"/><circle cx="347.95" cy="86.54" r="1.0"/><circle cx="348.45" cy="88.27" r="1.0"/><circle cx="349.20" cy="90.27" r="1.0"/><circle cx="350.20" cy="92.02" r="1.0"/><circle cx="351.45" cy="93.15" r="1.0"/><circle cx="353.20" cy="93.49" r="1.0"/><circle cx="354.95" cy="92.82" r="1.0"/><circle cx="356.20" cy="91.74" r="1.0"/><circle cx="357.20" cy="90.47" r="1.0"/><circle cx="358.20" cy="88.82" r="1.0"/><circle cx="358.95" cy="87.33" r="1.0"/><circle cx="359.70" cy="85.64" r="1.0"/><circle cx="360.45" cy="83.78" r="1.0"/><circle cx="361.20" cy="81.78" r="1.0"/><circle cx="361.95" cy="79.67" r="1.0"/><circle cx="362.70" cy="77.46" r="1.0"/><circle cx="363.20" cy="75.93" r="1.0"/><circle cx="363.70" cy="74.31" r="1.0"/><circle cx="364.20" cy="72.59" r="1.0"/><circle cx="364.70" cy="70.70" r="1.0"/><circle cx="365.20" cy="68.58" r="1.0"/><circle cx="365.70" cy="66.12" r="1.0"/><circle cx="366.20" cy="63.25" r="1.0"/><circle cx="366.45" cy="61.63" r="1.0"/><circle cx="366.70" cy="59.87" r="1.0"/><circle cx="366.95" cy="57.97" r="1.0"/><circle cx="367.20" cy="55.91" r="1.0"/><circle cx="367.45" cy="53.72" r="1.0"/><circle cx="367.70" cy="51.37" r="1.0"/><circle cx="367.95" cy="48.89" r="1.0"/><circle cx="368.20" cy="46.28" r="1.0"/><circle cx="368.45" cy="43.56" r="1.0"/><circle cx="368.70" cy="40.75" r="1.0"/><circle cx="368.95" cy="37.90" r="1.0"/><circle cx="369.20" cy="35.04" r="1.0"/><circle cx="369.45" cy="32.21" r="1.0"/><circle cx="369.70" cy="29.49" r="1.0"/><circle cx="369.95" cy="26.93" r="1.0"/><circle cx="370.20" cy="24.62" r="1.0"/><circle cx="370.45" cy="22.63" r="1.0"/><circle cx="370.70" cy="21.04" r="1.0"/><circle cx="371.20" cy="19.37" r="1.0"/><circle cx="371.95" cy="21.22" r="1.0"/><circle cx="372.20" cy="22.99" r="1.0"/><circle cx="372.45" cy="25.26" r="1.0"/><circle cx="372.70" cy="27.96" r="1.0"/><circle cx="372.95" cy="31.01" r="1.0"/><circle cx="373.20" cy="34.33" r="1.0"/><circle cx="373.45" cy="37.82" r="1.0"/><circle cx="373.70" cy="41.43" r="1.0"/><circle cx="373.95" cy="45.08" r="1.0"/><circle cx="374.20" cy="48.73" r="1.0"/><circle cx="374.45" cy="52.31" r="1.0"/><circle cx="374.70" cy="55.80" r="1.0"/><circle cx="374.95" cy="59.16" r="1.0"/><circle cx="375.20" cy="62.37" r="1.0"/><circle cx="375.45" cy="65.41" r="1.0"/><circle cx="375.70" cy="68.27" r="1.0"/><circle cx="375.95" cy="70.93" r="1.0"/><circle cx="376.20" cy="73.41" r="1.0"/><circle cx="376.45" cy="75.69" r="1.0"/><circle cx="376.70" cy="77.78" r="1.0"/><circle cx="376.95" cy="79.69" r="1.0"/><circle cx="377.20" cy="81.41" r="1.0"/><circle cx="377.70" cy="84.37" r="1.0"/><circle cx="378.20" cy="86.74" r="1.0"/><circle cx="378.70" cy="88.62" r="1.0"/><circle cx="379.45" cy="90.70" r="1.0"/><circle cx="380.20" cy="92.15" r="1.0"/><circle cx="381.20" cy="93.45" r="1.0"/><circle cx="382.45" cy="94.50" r="1.0"/><circle cx="383.95" cy="95.34" r="1.0"/><circle cx="385.45" cy="95.92" r="1.0"/><circle cx="387.20" cy="96.43" r="1.0"/><circle cx="388.95" cy="96.81" r="1.0"/><circle cx="390.70" cy="97.10" r="1.0"/><circle cx="392.45" cy="97.33" r="1.0"/><circle cx="394.20" cy="97.51" r="1.0"/><circle cx="395.95" cy="97.67" r="1.0"/><circle cx="397.70" cy="97.80" r="1.0"/><circle cx="399.45" cy="97.91" r="1.0"/><circle cx="401.20" cy="98.00" r="1.0"/><circle cx="402.95" cy="98.09" r="1.0"/><circle cx="404.70" cy="98.16" r="1.0"/><circle cx="406.45" cy="98.23" r="1.0"/><circle cx="408.20" cy="98.28" r="1.0"/><circle cx="409.95" cy="98.34" r="1.0"/></g>
<rect x="313.2" y="14.8" width="100.0" height="90.5" fill="none" stroke="#8c8c8c" stroke-width="0.8"/>
<path d="M327.00,105.3 v-2.2 M327.00,14.8 v2.2 M351.00,105.3 v-2.2 M351.00,14.8 v2.2 M375.00,105.3 v-2.2 M375.00,14.8 v2.2 M399.00,105.3 v-2.2 M399.00,14.8 v2.2 M317.40,105.3 v-1.2 M317.40,14.8 v1.2 M322.20,105.3 v-1.2 M322.20,14.8 v1.2 M327.00,105.3 v-1.2 M327.00,14.8 v1.2 M331.80,105.3 v-1.2 M331.80,14.8 v1.2 M336.60,105.3 v-1.2 M336.60,14.8 v1.2 M341.40,105.3 v-1.2 M341.40,14.8 v1.2 M346.20,105.3 v-1.2 M346.20,14.8 v1.2 M351.00,105.3 v-1.2 M351.00,14.8 v1.2 M355.80,105.3 v-1.2 M355.80,14.8 v1.2 M360.60,105.3 v-1.2 M360.60,14.8 v1.2 M365.40,105.3 v-1.2 M365.40,14.8 v1.2 M370.20,105.3 v-1.2 M370.20,14.8 v1.2 M375.00,105.3 v-1.2 M375.00,14.8 v1.2 M379.80,105.3 v-1.2 M379.80,14.8 v1.2 M384.60,105.3 v-1.2 M384.60,14.8 v1.2 M389.40,105.3 v-1.2 M389.40,14.8 v1.2 M394.20,105.3 v-1.2 M394.20,14.8 v1.2 M399.00,105.3 v-1.2 M399.00,14.8 v1.2 M403.80,105.3 v-1.2 M403.80,14.8 v1.2 M408.60,105.3 v-1.2 M408.60,14.8 v1.2" stroke="#8c8c8c" stroke-width="0.6" fill="none"/>
<text x="327" y="112.6" font-size="7.4" fill="#222" font-weight="normal" text-anchor="middle"  stroke="#222" stroke-width="0.16">164</text>
<text x="351" y="112.6" font-size="7.4" fill="#222" font-weight="normal" text-anchor="middle"  stroke="#222" stroke-width="0.16">163</text>
<text x="375" y="112.6" font-size="7.4" fill="#222" font-weight="normal" text-anchor="middle"  stroke="#222" stroke-width="0.16">162</text>
<text x="399" y="112.6" font-size="7.4" fill="#222" font-weight="normal" text-anchor="middle"  stroke="#222" stroke-width="0.16">161</text>
<text x="328.3" y="121.9" font-size="8" fill="#222" font-weight="normal" text-anchor="start" textLength="72" lengthAdjust="spacingAndGlyphs"  stroke="#222" stroke-width="0.16">Binding Energy (eV)</text>
<text transform="translate(308.8,85.8) rotate(-90)" font-size="8.3" fill="#1a1a1a" stroke="#1a1a1a" stroke-width="0.08" textLength="60.6" lengthAdjust="spacingAndGlyphs">Intensity (arb.units)</text>
<text x="334.8" y="56" font-size="8" fill="#111" font-style="italic" stroke="#111" stroke-width="0.16">2<tspan>p</tspan><tspan font-size="5" dy="1">1/2</tspan></text>
<text x="352.7" y="25.6" font-size="8" fill="#111" font-style="italic" stroke="#111" stroke-width="0.16">2<tspan>p</tspan><tspan font-size="5" dy="1">3/2</tspan></text>
<text x="393.6" y="26.3" font-size="7.6" fill="#111" font-weight="bold" textLength="16.6" lengthAdjust="spacingAndGlyphs" stroke="#111" stroke-width="0.05">S 2<tspan font-style="italic">p</tspan></text>
<text x="382.4" y="48.4" font-size="7" fill="#222" font-weight="normal" text-anchor="start"  stroke="#222" stroke-width="0.16">top</text>
<text x="381.8" y="71.2" font-size="7" fill="#222" font-weight="normal" text-anchor="start" textLength="23.2" lengthAdjust="spacingAndGlyphs"  stroke="#222" stroke-width="0.16">bottom</text>
<path d="M382,51 L373,58 M381,73.5 L368,84" stroke="#777" stroke-width="0.5"/>
<defs><filter id="bl1" x="-50%" y="-50%" width="200%" height="200%"><feGaussianBlur stdDeviation="1.2"/></filter><filter id="bl05" x="-50%" y="-50%" width="200%" height="200%"><feGaussianBlur stdDeviation="0.45"/></filter><filter id="bl07" x="-50%" y="-50%" width="200%" height="200%"><feGaussianBlur stdDeviation="0.7"/></filter><filter id="bl2c" x="-50%" y="-50%" width="200%" height="200%"><feGaussianBlur stdDeviation="2.2"/></filter><filter id="bl3" x="-50%" y="-50%" width="200%" height="200%"><feGaussianBlur stdDeviation="3.5"/></filter><filter id="bl6" x="-50%" y="-50%" width="200%" height="200%"><feGaussianBlur stdDeviation="7"/></filter><clipPath id="cclip"><rect x="464.5" y="25" width="104.3" height="76.8"/></clipPath><linearGradient id="cbg" x1="0" y1="0" x2="1" y2="0"><stop offset="0" stop-color="#d8d8d8"/><stop offset="0.35" stop-color="#ececec"/><stop offset="1" stop-color="#eeeeee"/></linearGradient></defs>
<g clip-path="url(#cclip)">
<rect x="464.5" y="25" width="104.29999999999995" height="76.8" fill="#f3f3f3"/>
<defs><linearGradient id="cl" x1="0" y1="0" x2="0" y2="1"><stop offset="0" stop-color="#eeeeee"/><stop offset="0.45" stop-color="#dedede"/><stop offset="1" stop-color="#c2c2c2"/></linearGradient><linearGradient id="cm" x1="0" y1="0" x2="0" y2="1"><stop offset="0" stop-color="#f7f7f7"/><stop offset="0.55" stop-color="#eeeeee"/><stop offset="1" stop-color="#dedede"/></linearGradient></defs>
<rect x="464.5" y="25" width="38" height="77" fill="url(#cl)" filter="url(#bl1)"/>
<rect x="503" y="25" width="44" height="77" fill="url(#cm)"/>
<rect x="547" y="25" width="22" height="77" fill="#ebebeb"/>
<ellipse cx="481" cy="90" rx="13" ry="16" fill="#a8a8a8" filter="url(#bl6)"/>
<path d="M504,66 C509,72 513,80 517,86 C519,89 521,90 523,90" stroke="#a4a4a4" stroke-width="6" fill="none" filter="url(#bl2c)" opacity="0.8"/>
<path d="M512,80 C515,85 518,89 521.5,90 C524,90.5 526,89 528,86" stroke="#606060" stroke-width="2.2" fill="none" filter="url(#bl1)"/>
<path d="M521.5,90 C527,89.5 533,82 538,76 C541,72 544,68 547.2,67.5 C551,67.5 555,71 560,74 C564,76 568,77.5 572,78.5" stroke="#7c7c7c" stroke-width="1.3" fill="none" filter="url(#bl07)"/>
<path d="M541,73.5 C544,70.5 546,70 548,70.5 C552,71.5 556,75 561,77.5 C565,79.5 568,80.5 572,81.5" stroke="#989898" stroke-width="1.1" fill="none" filter="url(#bl07)"/>
<path d="M525,101 C530,97 536,94 542,94 C548,95 552,98 556,101" stroke="#c8c8c8" stroke-width="1.2" fill="none" filter="url(#bl1)"/>
<ellipse cx="484" cy="90.6" rx="4.6" ry="13.4" transform="rotate(31 484 90.6)" fill="#181818" filter="url(#bl1)"/>
<rect x="553.5" y="27.5" width="12" height="11.5" fill="#fdfdfd"/>
</g>
<path d="M465,25 V101.8" stroke="#48b0bc" stroke-width="1"/>
<path d="M502.3,25 V101.8" stroke="#48b0bc" stroke-width="1"/>
<path d="M546.7,25 V101.8" stroke="#48b0bc" stroke-width="1"/>
<path d="M568.3,25 V101.8" stroke="#48b0bc" stroke-width="1"/>
<path d="M463.9,25 V101.8 M462.0,25 H569.3 M462.0,101.8 H569.3" stroke="#2a2a2a" stroke-width="1.2" fill="none"/>
<path d="M462.0,25 h2 M462.0,39.5 h2 M462.0,54 h2 M462.0,68.5 h2 M462.0,83 h2 M462.0,97.5 h2" stroke="#333" stroke-width="0.8"/>
<text x="459.6" y="27.9" font-size="8.8" fill="#1a1a1a" font-weight="normal" text-anchor="end"  stroke="#1a1a1a" stroke-width="0.16">0</text>
<text x="459.6" y="57.1" font-size="8.8" fill="#1a1a1a" font-weight="normal" text-anchor="end"  stroke="#1a1a1a" stroke-width="0.16">-1</text>
<text x="459.6" y="85.8" font-size="8.8" fill="#1a1a1a" font-weight="normal" text-anchor="end"  stroke="#1a1a1a" stroke-width="0.16">-2</text>
<text transform="translate(443.2,97) rotate(-90)" font-size="8.3" fill="#1a1a1a" stroke="#1a1a1a" stroke-width="0.25" textLength="71.5" lengthAdjust="spacingAndGlyphs">Binding energy (eV)</text>
<text x="466.2" y="22.8" font-size="8.4" fill="#1a1a1a" stroke="#1a1a1a" stroke-width="0.2" text-anchor="middle">M</text>
<path d="M463.59999999999997,15.3 h5.2" stroke="#222" stroke-width="0.7"/>
<text x="502.3" y="22.8" font-size="8.4" fill="#1a1a1a" stroke="#1a1a1a" stroke-width="0.2" text-anchor="middle">&#915;</text>
<path d="M499.7,15.3 h5.2" stroke="#222" stroke-width="0.7"/>
<text x="546.8" y="22.8" font-size="8.4" fill="#1a1a1a" stroke="#1a1a1a" stroke-width="0.2" text-anchor="middle">K</text>
<path d="M544.1999999999999,15.3 h5.2" stroke="#222" stroke-width="0.7"/>
<text x="569.2" y="22.8" font-size="8.4" fill="#1a1a1a" stroke="#1a1a1a" stroke-width="0.2" text-anchor="middle">M</text>
<path d="M566.6,15.3 h5.2" stroke="#222" stroke-width="0.7"/>
<text x="491.3" y="114.8" font-size="8.8" fill="#1a1a1a" stroke="#1a1a1a" stroke-width="0.28" textLength="45.7" lengthAdjust="spacingAndGlyphs">Momentum</text>
<defs><clipPath id="fclip"><rect x="461.3" y="164.9" width="107.9" height="61.9"/></clipPath><linearGradient id="fbg" x1="0" y1="0" x2="0" y2="1"><stop offset="0" stop-color="#f7f7f7"/><stop offset="0.45" stop-color="#eeeeee"/><stop offset="1" stop-color="#d4d4d4"/></linearGradient></defs>
<g clip-path="url(#fclip)">
<rect x="461.3" y="164.9" width="107.90000000000003" height="61.900000000000006" fill="url(#fbg)"/>
<path d="M458,214 C463,218 469,219 474,215 C479,209 483,200 490,195 C495,192 503,191 509,194 C515,198 520,206 524,216 L527,230 L458,230 Z" fill="#b6b6b6" filter="url(#bl3)"/>
<path d="M476,230 C479,220 483,210 489,204 C494,200 502,199 507,202 C513,206 516,216 518,230 Z" fill="#9a9a9a" filter="url(#bl3)"/>
<defs><filter id="bl2" x="-50%" y="-50%" width="200%" height="200%"><feGaussianBlur stdDeviation="2.0"/></filter></defs>
<path d="M459,212 C462,215.5 466,217.5 470,217.5 C474,217 477,213 480,208 C483,203 486,199 490,196 C494,193.5 498,192.3 502,192.3 C507,192.5 511,195 514,198.5 C517,202 520,207 522,212" stroke="#555" stroke-width="6" fill="none" filter="url(#bl2)" opacity="0.8"/>
<path d="M468,217.5 C472,217 475,214 478,210 C481,205 484,201 488,197.5" stroke="#333" stroke-width="4" fill="none" filter="url(#bl2)" opacity="0.65"/>
<path d="M514,198.5 C518,203 521,208 523,213 C525,218 526,223 527,228" stroke="#707070" stroke-width="6" fill="none" filter="url(#bl3)" opacity="0.7"/>
<path d="M534,230 L537,222 C540,210 547,200 554,197 C560,196 565,203 571,210 L571,230 Z" fill="#c4c4c4" filter="url(#bl3)"/>
<path d="M548,199 C552,196 556,196 559,198 C563,201 566,206 570,212" stroke="#8a8a8a" stroke-width="4" fill="none" filter="url(#bl3)"/>
</g>
<path d="M500.3,164.9 V226.8" stroke="#3aa2dc" stroke-width="1.1"/>
<path d="M547.9,164.9 V226.8" stroke="#3aa2dc" stroke-width="1.1"/>
<rect x="461.3" y="164.9" width="107.90000000000003" height="61.900000000000006" fill="none" stroke="#111" stroke-width="1.1"/>
<path d="M459.3,165 h2 M459.3,180.5 h2 M459.3,196 h2 M459.3,211.4 h2 M459.3,226.8 h2" stroke="#333" stroke-width="0.7"/>
<text x="457" y="168.3" font-size="7" fill="#222" font-weight="normal" text-anchor="end"  stroke="#222" stroke-width="0.16">-2</text>
<text x="457" y="199.3" font-size="7" fill="#222" font-weight="normal" text-anchor="end"  stroke="#222" stroke-width="0.16">-3</text>
<text x="457" y="227.8" font-size="7" fill="#222" font-weight="normal" text-anchor="end"  stroke="#222" stroke-width="0.16">-4</text>
<text transform="translate(443.6,221.8) rotate(-90)" font-size="9" fill="#1a1a1a" stroke="#1a1a1a" stroke-width="0.2" textLength="66.6" lengthAdjust="spacingAndGlyphs">Binding energy (eV)</text>
<text x="464.1" y="161.6" font-size="9.8" fill="#1a1a1a" stroke="#1a1a1a" stroke-width="0.25" text-anchor="middle">M</text>
<path d="M460.90000000000003,151.9 h6.4" stroke="#1a1a1a" stroke-width="0.9"/>
<text x="500.2" y="161.6" font-size="9.8" fill="#1a1a1a" stroke="#1a1a1a" stroke-width="0.25" text-anchor="middle">&#915;</text>
<path d="M497.0,151.9 h6.4" stroke="#1a1a1a" stroke-width="0.9"/>
<text x="547.6" y="161.6" font-size="9.8" fill="#1a1a1a" stroke="#1a1a1a" stroke-width="0.25" text-anchor="middle">K</text>
<path d="M544.4,151.9 h6.4" stroke="#1a1a1a" stroke-width="0.9"/>
<text x="569.3" y="161.6" font-size="9.8" fill="#1a1a1a" stroke="#1a1a1a" stroke-width="0.25" text-anchor="middle">M</text>
<path d="M566.0999999999999,151.9 h6.4" stroke="#1a1a1a" stroke-width="0.9"/>
<text x="490" y="240" font-size="9" fill="#1a1a1a" stroke="#1a1a1a" stroke-width="0.28" textLength="46.4" lengthAdjust="spacingAndGlyphs">Momentum</text>
<circle cx="458.6" cy="259" r="0.6" fill="#666"/>
<text x="37.8" y="141.9" font-size="10.2" fill="#111" stroke="#111" stroke-width="0.18" textLength="80.5" lengthAdjust="spacingAndGlyphs">MoS<tspan font-size="6.8" dy="1.9">2</tspan><tspan dy="-1.9"> on SiO</tspan><tspan font-size="6.8" dy="1.9">2</tspan><tspan dy="-1.9"> / Si</tspan></text>
<text x="2.7" y="160.9" font-size="6.3" fill="#111" stroke="#111" stroke-width="0.1" textLength="18.3" lengthAdjust="spacingAndGlyphs">10 &#181;m</text>
<path d="M15.3,167 V221.5" stroke="#111" stroke-width="0.8"/>
<path d="M13.5,168 L15.3,164.6 L17.1,168 Z M13.5,220.6 L15.3,224 L17.1,220.6 Z" fill="#111"/>
<rect x="28.9" y="153.2" width="35.6" height="12" fill="#fff" stroke="#8a8a8a" stroke-width="0.8"/>
<text x="31.9" y="161.4" font-size="6.5" fill="#111" stroke="#111" stroke-width="0.1" textLength="29" lengthAdjust="spacingAndGlyphs">Real space</text>
<defs><linearGradient id="tri" x1="0.2" y1="0" x2="0.8" y2="1"><stop offset="0" stop-color="#9c9c9c"/><stop offset="0.5" stop-color="#828282"/><stop offset="1" stop-color="#5e5e5e"/></linearGradient></defs>
<rect x="20" y="164.6" width="52.7" height="58.3" fill="#0c0c0c"/>
<path d="M54.4,175.3 C50,180 38,188 22.9,199.6 C35,204 50,210 61.7,214.9 C60,205 59,195 59.5,188 C59,182 57,178 54.4,175.3 Z" fill="url(#tri)" stroke="#bdbdbd" stroke-width="0.7"/>
<path d="M53,179 L30,198.5 L58,209 C57,200 56.5,190 53,179 Z" stroke="#b8b8b8" stroke-width="0.6" fill="none" opacity="0.8"/>
<path d="M22.9,199.6 L70.2,192.3" stroke="#f4f4f4" stroke-width="0.9" stroke-dasharray="2 1.2"/>
<circle cx="46.4" cy="196.2" r="24.6" fill="none" stroke="#16a2e2" stroke-width="1.3" stroke-dasharray="2.4 1.5"/>
<text x="24" y="171.2" font-size="3.8" fill="#2aa8e8" textLength="15.8" lengthAdjust="spacingAndGlyphs" stroke="#2aa8e8" stroke-width="0.16">Aperture</text>
<path d="M46,172 L106.5,163.8 M46.6,221 L76,221.5 L108.5,226.6" stroke="#16a2e2" stroke-width="1.2"/>
<rect x="107.4" y="154.8" width="31.5" height="9.7" fill="#fff" stroke="#4aa8d8" stroke-width="0.8"/>
<text x="109.6" y="162.3" font-size="6.5" fill="#2a90d0" stroke="#2a90d0" stroke-width="0.2" textLength="27" lengthAdjust="spacingAndGlyphs">&#181;-ARPES</text>
<defs><radialGradient id="ring" cx="0.5" cy="0.5" r="0.5"><stop offset="0.72" stop-color="#555555"/><stop offset="0.79" stop-color="#9a9a9a"/><stop offset="0.86" stop-color="#dcdcdc"/><stop offset="0.92" stop-color="#f5f5f5"/><stop offset="0.97" stop-color="#e2e2e2"/><stop offset="1" stop-color="#b4b4b4"/></radialGradient><linearGradient id="ringsh" x1="0.1" y1="0.1" x2="0.9" y2="0.9"><stop offset="0" stop-color="#000" stop-opacity="0.3"/><stop offset="0.55" stop-color="#000" stop-opacity="0"/><stop offset="1" stop-color="#fff" stop-opacity="0.2"/></linearGradient><filter id="tex" x="0" y="0" width="100%" height="100%"><feTurbulence type="fractalNoise" baseFrequency="0.16" numOctaves="3" seed="11"/><feColorMatrix type="matrix" values="0 0 0 0 0  0 0 0 0 0  0 0 0 0 0  -3.2 0 0 0 1.75"/></filter><filter id="tex2" x="0" y="0" width="100%" height="100%"><feTurbulence type="fractalNoise" baseFrequency="0.22" numOctaves="2" seed="3"/><feColorMatrix type="matrix" values="0 0 0 0 1  0 0 0 0 1  0 0 0 0 1  -3 0 0 0 1.55"/></filter><radialGradient id="inner" cx="0.5" cy="0.5" r="0.5"><stop offset="0" stop-color="#b0b0b0"/><stop offset="0.15" stop-color="#505050"/><stop offset="0.35" stop-color="#2e2e2e"/><stop offset="0.55" stop-color="#7a7a7a"/><stop offset="0.75" stop-color="#808080"/><stop offset="1" stop-color="#5a5a5a" stop-opacity="0"/></radialGradient><clipPath id="dclip"><circle cx="120.4" cy="197" r="24"/></clipPath></defs>
<circle cx="120.4" cy="197" r="31.6" fill="url(#ring)"/>
<circle cx="120.4" cy="197" r="31.6" fill="url(#ringsh)"/>
<g clip-path="url(#dclip)"><rect x="94" y="170" width="54" height="54" fill="#6e6e6e"/>
<g filter="url(#bl1)"><ellipse cx="106" cy="183" rx="7" ry="5" fill="#383838"/><ellipse cx="140" cy="193" rx="4" ry="7" fill="#404040"/><ellipse cx="124" cy="211" rx="9" ry="4" fill="#3c3c3c"/><ellipse cx="103" cy="208" rx="5" ry="6" fill="#4a4a4a"/><ellipse cx="128" cy="176" rx="6" ry="3" fill="#9a9a9a"/><circle cx="123" cy="193.5" r="11" fill="#9c9c9c"/><circle cx="123" cy="193.5" r="6.5" fill="none" stroke="#2c2c2c" stroke-width="3.5"/><circle cx="123" cy="193.5" r="3.5" fill="#8a8a8a"/></g>
<rect x="94" y="170" width="54" height="54" filter="url(#tex)" opacity="0.55"/>
<rect x="94" y="170" width="54" height="54" filter="url(#tex2)" opacity="0.3"/>
<circle cx="122.5" cy="193.2" r="1.8" fill="#e8e8e8"/>
</g>
<path d="M106.8,188.1 L120,176.2 L136.5,183 L139,199.5 L127.6,211 L108.6,204.6 Z" fill="none" stroke="#e6e020" stroke-width="1.1"/>
<path d="M106,197 L146.6,189.4" stroke="#fff" stroke-width="0.8" stroke-dasharray="1.8 1.2"/>
<text x="99.8" y="185.6" font-size="5.6" fill="#50c040" font-weight="bold" stroke="#50c040" stroke-width="0.05">K</text>
<text x="99.6" y="204" font-size="6" fill="#1e9ee0" font-weight="bold" stroke="#1e9ee0" stroke-width="0.05">M</text>
<circle cx="106" cy="186.8" r="0.8" fill="#50c040"/><circle cx="107.3" cy="195.7" r="0.8" fill="#1e9ee0"/>
<path d="M155,211 V225 H142" stroke="#111" stroke-width="0.7" fill="none"/>
<path d="M153.8,212 L155,209.2 L156.2,212 Z M142.3,223.8 L139.8,225 L142.3,226.2 Z" fill="#111"/>
<text x="157" y="206.5" font-size="6.5" fill="#111" font-style="italic" stroke="#111" stroke-width="0.16">k<tspan font-size="4.2" dy="1.4">y</tspan></text>
<text x="134.5" y="233.5" font-size="6.5" fill="#111" font-style="italic" stroke="#111" stroke-width="0.16">k<tspan font-size="4.2" dy="1.4">x</tspan></text>
<path d="M192.90,237.30 L192.90,235.52 L193.15,235.51 L193.40,235.51 L193.65,235.51 L193.90,235.51 L194.15,235.51 L194.40,235.50 L194.65,235.50 L194.90,235.50 L195.15,235.50 L195.40,235.49 L195.65,235.49 L195.90,235.49 L196.15,235.49 L196.40,235.48 L196.65,235.48 L196.90,235.48 L197.15,235.47 L197.40,235.47 L197.65,235.47 L197.90,235.47 L198.15,235.46 L198.40,235.46 L198.65,235.46 L198.90,235.45 L199.15,235.45 L199.40,235.45 L199.65,235.44 L199.90,235.44 L200.15,235.43 L200.40,235.43 L200.65,235.43 L200.90,235.42 L201.15,235.42 L201.40,235.41 L201.65,235.41 L201.90,235.41 L202.15,235.40 L202.40,235.40 L202.65,235.39 L202.90,235.39 L203.15,235.38 L203.40,235.38 L203.65,235.37 L203.90,235.37 L204.15,235.36 L204.40,235.35 L204.65,235.35 L204.90,235.34 L205.15,235.34 L205.40,235.33 L205.65,235.32 L205.90,235.32 L206.15,235.31 L206.40,235.30 L206.65,235.30 L206.90,235.29 L207.15,235.28 L207.40,235.27 L207.65,235.27 L207.90,235.26 L208.15,235.25 L208.40,235.24 L208.65,235.23 L208.90,235.22 L209.15,235.21 L209.40,235.20 L209.65,235.19 L209.90,235.18 L210.15,235.17 L210.40,235.16 L210.65,235.15 L210.90,235.14 L211.15,235.12 L211.40,235.11 L211.65,235.10 L211.90,235.08 L212.15,235.07 L212.40,235.05 L212.65,235.04 L212.90,235.02 L213.15,235.01 L213.40,234.99 L213.65,234.97 L213.90,234.95 L214.15,234.93 L214.40,234.91 L214.65,234.89 L214.90,234.87 L215.15,234.84 L215.40,234.82 L215.65,234.80 L215.90,234.77 L216.15,234.74 L216.40,234.71 L216.65,234.68 L216.90,234.65 L217.15,234.62 L217.40,234.58 L217.65,234.55 L217.90,234.51 L218.15,234.47 L218.40,234.43 L218.65,234.38 L218.90,234.33 L219.15,234.28 L219.40,234.23 L219.65,234.17 L219.90,234.11 L220.15,234.05 L220.40,233.98 L220.65,233.91 L220.90,233.84 L221.15,233.75 L221.40,233.67 L221.65,233.57 L221.90,233.47 L222.15,233.37 L222.40,233.25 L222.65,233.13 L222.90,232.99 L223.15,232.85 L223.40,232.69 L223.65,232.52 L223.90,232.33 L224.15,232.13 L224.40,231.91 L224.65,231.66 L224.90,231.38 L225.15,231.08 L225.40,230.74 L225.65,230.36 L225.90,229.92 L226.15,229.43 L226.40,228.88 L226.65,228.24 L226.90,227.52 L227.15,226.69 L227.40,225.74 L227.65,224.66 L227.90,223.42 L228.15,222.02 L228.40,220.43 L228.65,218.65 L228.90,216.66 L229.15,214.45 L229.40,212.05 L229.65,209.46 L229.90,206.75 L230.15,203.97 L230.40,201.26 L230.65,198.77 L230.90,196.68 L231.15,195.17 L231.40,194.42 L231.65,194.49 L231.90,195.39 L232.15,197.01 L232.40,199.19 L232.65,201.72 L232.90,204.44 L233.15,207.19 L233.40,209.87 L233.65,212.41 L233.90,214.76 L234.15,216.90 L234.40,218.84 L234.65,220.56 L234.90,222.09 L235.15,223.44 L235.40,224.63 L235.65,225.67 L235.90,226.57 L236.15,227.36 L236.40,228.04 L236.65,228.64 L236.90,229.16 L237.15,229.62 L237.40,230.02 L237.65,230.37 L237.90,230.68 L238.15,230.95 L238.40,231.20 L238.65,231.41 L238.90,231.61 L239.15,231.78 L239.40,231.93 L239.65,232.07 L239.90,232.19 L240.15,232.30 L240.40,232.40 L240.65,232.48 L240.90,232.55 L241.15,232.62 L241.40,232.67 L241.65,232.72 L241.90,232.76 L242.15,232.79 L242.40,232.81 L242.65,232.82 L242.90,232.83 L243.15,232.83 L243.40,232.82 L243.65,232.80 L243.90,232.78 L244.15,232.74 L244.40,232.70 L244.65,232.65 L244.90,232.59 L245.15,232.52 L245.40,232.44 L245.65,232.35 L245.90,232.24 L246.15,232.12 L246.40,231.99 L246.65,231.83 L246.90,231.66 L247.15,231.47 L247.40,231.26 L247.65,231.02 L247.90,230.75 L248.15,230.44 L248.40,230.09 L248.65,229.70 L248.90,229.26 L249.15,228.75 L249.40,228.17 L249.65,227.49 L249.90,226.71 L250.15,225.79 L250.40,224.70 L250.65,223.41 L250.90,221.86 L251.15,219.99 L251.40,217.74 L251.65,215.02 L251.90,211.74 L252.15,207.79 L252.40,203.11 L252.65,197.61 L252.90,191.29 L253.15,184.29 L253.40,176.93 L253.65,169.87 L253.90,164.07 L254.15,160.61 L254.40,160.29 L254.65,163.18 L254.90,168.61 L255.15,175.52 L255.40,182.90 L255.65,190.03 L255.90,196.51 L256.15,202.20 L256.40,207.06 L256.65,211.16 L256.90,214.59 L257.15,217.43 L257.40,219.79 L257.65,221.75 L257.90,223.37 L258.15,224.73 L258.40,225.87 L258.65,226.84 L258.90,227.67 L259.15,228.39 L259.40,229.01 L259.65,229.56 L259.90,230.04 L260.15,230.46 L260.40,230.84 L260.65,231.18 L260.90,231.48 L261.15,231.76 L261.40,232.00 L261.65,232.23 L261.90,232.43 L262.15,232.62 L262.40,232.79 L262.65,232.95 L262.90,233.09 L263.15,233.22 L263.40,233.35 L263.65,233.46 L263.90,233.57 L264.15,233.66 L264.40,233.75 L264.65,233.84 L264.90,233.92 L265.15,233.99 L265.40,234.06 L265.65,234.13 L265.90,234.19 L266.15,234.24 L266.40,234.30 L266.65,234.35 L266.90,234.40 L267.15,234.44 L267.40,234.49 L267.65,234.53 L267.90,234.57 L268.15,234.60 L268.40,234.64 L268.65,234.67 L268.90,234.70 L269.15,234.73 L269.40,234.76 L269.65,234.79 L269.90,234.81 L270.15,234.84 L270.40,234.86 L270.65,234.89 L270.90,234.91 L271.15,234.93 L271.40,234.95 L271.65,234.97 L271.90,234.99 L272.15,235.00 L272.40,235.02 L272.65,235.04 L272.90,235.05 L273.15,235.07 L273.40,235.08 L273.65,235.10 L273.90,235.11 L274.15,235.12 L274.40,235.14 L274.65,235.15 L274.90,235.16 L275.15,235.17 L275.40,235.18 L275.65,235.19 L275.90,235.21 L276.15,235.22 L276.40,235.23 L276.65,235.23 L276.90,235.24 L277.15,235.25 L277.40,235.26 L277.65,235.27 L277.90,235.28 L278.15,235.29 L278.40,235.29 L278.65,235.30 L278.90,235.31 L279.15,235.31 L279.40,235.32 L279.65,235.33 L279.90,235.33 L280.15,235.34 L280.40,235.35 L280.65,235.35 L280.90,235.36 L281.15,235.36 L281.40,235.37 L281.65,235.37 L281.90,235.38 L282.15,235.38 L282.40,235.39 L282.65,235.39 L282.90,235.40 L283.15,235.40 L283.40,235.41 L283.65,235.41 L283.90,235.42 L284.15,235.42 L284.40,235.43 L284.65,235.43 L284.90,235.43 L285.15,235.44 L285.40,235.44 L285.65,235.44 L285.90,235.45 L286.15,235.45 L286.40,235.45 L286.65,235.46 L286.90,235.46 L287.15,235.46 L287.40,235.47 L287.65,235.47 L287.90,235.47 L288.15,235.48 L288.40,235.48 L288.65,235.48 L288.90,235.49 L289.15,235.49 L289.40,235.49 L289.65,235.49 L289.90,235.50 L290.15,235.50 L290.40,235.50 L290.65,235.50 L290.90,235.51 L291.15,235.51 L291.40,235.51 L291.65,235.51 L291.90,235.51 L292.15,235.52 L292.40,235.52 L292.65,235.52 L292.90,235.52 L293.15,235.53 L293.40,235.53 L293.65,235.53 L293.90,235.53 L294.15,235.53 L294.40,235.53 L294.65,235.54 L294.90,235.54 L295.15,235.54 L295.40,235.54 L295.65,235.54 L295.90,235.55 L296.15,235.55 L296.40,235.55 L296.65,235.55 L296.90,235.55 L297.15,235.55 L297.40,235.55 L297.65,235.56 L297.90,235.56 L297.90,237.30 Z" fill="#1d6b2e"/>
<path d="M192.90,235.70 L192.90,235.64 L193.15,235.64 L193.40,235.64 L193.65,235.64 L193.90,235.64 L194.15,235.64 L194.40,235.64 L194.65,235.63 L194.90,235.63 L195.15,235.63 L195.40,235.63 L195.65,235.63 L195.90,235.63 L196.15,235.62 L196.40,235.62 L196.65,235.62 L196.90,235.62 L197.15,235.61 L197.40,235.61 L197.65,235.61 L197.90,235.60 L198.15,235.60 L198.40,235.60 L198.65,235.59 L198.90,235.59 L199.15,235.58 L199.40,235.58 L199.65,235.57 L199.90,235.56 L200.15,235.55 L200.40,235.55 L200.65,235.54 L200.90,235.52 L201.15,235.51 L201.40,235.50 L201.65,235.48 L201.90,235.46 L202.15,235.44 L202.40,235.42 L202.65,235.40 L202.90,235.37 L203.15,235.34 L203.40,235.31 L203.65,235.27 L203.90,235.23 L204.15,235.18 L204.40,235.14 L204.65,235.08 L204.90,235.03 L205.15,234.97 L205.40,234.90 L205.65,234.83 L205.90,234.76 L206.15,234.68 L206.40,234.60 L206.65,234.51 L206.90,234.43 L207.15,234.33 L207.40,234.24 L207.65,234.15 L207.90,234.05 L208.15,233.95 L208.40,233.86 L208.65,233.76 L208.90,233.67 L209.15,233.58 L209.40,233.49 L209.65,233.41 L209.90,233.34 L210.15,233.27 L210.40,233.22 L210.65,233.17 L210.90,233.13 L211.15,233.11 L211.40,233.10 L211.65,233.10 L211.90,233.11 L212.15,233.14 L212.40,233.17 L212.65,233.22 L212.90,233.27 L213.15,233.34 L213.40,233.41 L213.65,233.49 L213.90,233.58 L214.15,233.67 L214.40,233.76 L214.65,233.85 L214.90,233.94 L215.15,234.04 L215.40,234.13 L215.65,234.23 L215.90,234.32 L216.15,234.41 L216.40,234.49 L216.65,234.57 L216.90,234.65 L217.15,234.72 L217.40,234.79 L217.65,234.86 L217.90,234.92 L218.15,234.98 L218.40,235.03 L218.65,235.08 L218.90,235.12 L219.15,235.16 L219.40,235.20 L219.65,235.23 L219.90,235.26 L220.15,235.28 L220.40,235.30 L220.65,235.32 L220.90,235.34 L221.15,235.35 L221.40,235.36 L221.65,235.36 L221.90,235.37 L222.15,235.37 L222.40,235.37 L222.65,235.36 L222.90,235.36 L223.15,235.35 L223.40,235.33 L223.65,235.32 L223.90,235.30 L224.15,235.28 L224.40,235.25 L224.65,235.22 L224.90,235.19 L225.15,235.15 L225.40,235.10 L225.65,235.05 L225.90,235.00 L226.15,234.94 L226.40,234.88 L226.65,234.81 L226.90,234.73 L227.15,234.65 L227.40,234.56 L227.65,234.46 L227.90,234.36 L228.15,234.25 L228.40,234.14 L228.65,234.02 L228.90,233.90 L229.15,233.78 L229.40,233.65 L229.65,233.51 L229.90,233.38 L230.15,233.25 L230.40,233.11 L230.65,232.98 L230.90,232.85 L231.15,232.73 L231.40,232.61 L231.65,232.50 L231.90,232.40 L232.15,232.31 L232.40,232.23 L232.65,232.17 L232.90,232.12 L233.15,232.09 L233.40,232.07 L233.65,232.07 L233.90,232.09 L234.15,232.13 L234.40,232.18 L234.65,232.25 L234.90,232.33 L235.15,232.43 L235.40,232.53 L235.65,232.64 L235.90,232.76 L236.15,232.89 L236.40,233.02 L236.65,233.16 L236.90,233.29 L237.15,233.43 L237.40,233.56 L237.65,233.70 L237.90,233.83 L238.15,233.95 L238.40,234.08 L238.65,234.20 L238.90,234.31 L239.15,234.42 L239.40,234.52 L239.65,234.61 L239.90,234.70 L240.15,234.79 L240.40,234.87 L240.65,234.94 L240.90,235.00 L241.15,235.07 L241.40,235.12 L241.65,235.17 L241.90,235.22 L242.15,235.26 L242.40,235.30 L242.65,235.33 L242.90,235.36 L243.15,235.39 L243.40,235.41 L243.65,235.43 L243.90,235.45 L244.15,235.47 L244.40,235.49 L244.65,235.50 L244.90,235.51 L244.90,235.70 Z" fill="#8ccc78" opacity="0.95"/>
<path d="M258.00,237.30 L258.00,235.38 L258.25,235.36 L258.50,235.34 L258.75,235.31 L259.00,235.28 L259.25,235.25 L259.50,235.21 L259.75,235.17 L260.00,235.13 L260.25,235.09 L260.50,235.04 L260.75,234.98 L261.00,234.92 L261.25,234.86 L261.50,234.79 L261.75,234.71 L262.00,234.63 L262.25,234.54 L262.50,234.44 L262.75,234.34 L263.00,234.23 L263.25,234.11 L263.50,233.98 L263.75,233.84 L264.00,233.69 L264.25,233.54 L264.50,233.37 L264.75,233.20 L265.00,233.01 L265.25,232.82 L265.50,232.61 L265.75,232.40 L266.00,232.17 L266.25,231.93 L266.50,231.69 L266.75,231.43 L267.00,231.17 L267.25,230.89 L267.50,230.61 L267.75,230.32 L268.00,230.02 L268.25,229.71 L268.50,229.40 L268.75,229.08 L269.00,228.76 L269.25,228.44 L269.50,228.12 L269.75,227.79 L270.00,227.47 L270.25,227.14 L270.50,226.82 L270.75,226.51 L271.00,226.20 L271.25,225.90 L271.50,225.61 L271.75,225.34 L272.00,225.07 L272.25,224.82 L272.50,224.59 L272.75,224.38 L273.00,224.18 L273.25,224.01 L273.50,223.86 L273.75,223.74 L274.00,223.64 L274.25,223.57 L274.50,223.52 L274.75,223.50 L275.00,223.51 L275.25,223.54 L275.50,223.61 L275.75,223.70 L276.00,223.81 L276.25,223.95 L276.50,224.11 L276.75,224.30 L277.00,224.50 L277.25,224.73 L277.50,224.97 L277.75,225.23 L278.00,225.50 L278.25,225.79 L278.50,226.08 L278.75,226.39 L279.00,226.70 L279.25,227.01 L279.50,227.34 L279.75,227.66 L280.00,227.99 L280.25,228.31 L280.50,228.64 L280.75,228.96 L281.00,229.27 L281.25,229.59 L281.50,229.90 L281.75,230.20 L282.00,230.49 L282.25,230.78 L282.50,231.06 L282.75,231.33 L283.00,231.59 L283.25,231.84 L283.50,232.08 L283.75,232.31 L284.00,232.53 L284.25,232.74 L284.50,232.94 L284.75,233.13 L285.00,233.30 L285.25,233.47 L285.50,233.63 L285.75,233.78 L286.00,233.92 L286.25,234.06 L286.50,234.18 L286.75,234.29 L287.00,234.40 L287.25,234.50 L287.50,234.59 L287.75,234.68 L288.00,234.76 L288.25,234.83 L288.50,234.90 L288.75,234.96 L289.00,235.01 L289.25,235.07 L289.50,235.11 L289.75,235.16 L290.00,235.20 L290.25,235.23 L290.50,235.27 L290.75,235.30 L291.00,235.33 L291.25,235.35 L291.50,235.37 L291.75,235.40 L292.00,235.42 L292.25,235.43 L292.50,235.45 L292.75,235.47 L293.00,235.48 L293.25,235.49 L293.50,235.50 L293.75,235.51 L294.00,235.52 L294.25,235.53 L294.50,235.54 L294.75,235.55 L295.00,235.56 L295.25,235.56 L295.50,235.57 L295.75,235.58 L296.00,235.58 L296.25,235.59 L296.50,235.59 L296.75,235.60 L297.00,235.60 L297.25,235.61 L297.50,235.61 L297.75,235.62 L297.75,237.30 Z" fill="#f5b830"/>
<path d="M195.4,230.4 C210,231.5 218,232.8 224,233.2" stroke="#e8a0a0" stroke-width="0.6" fill="none"/>
<path d="M192.90,227.28 L193.15,227.29 L193.40,227.29 L193.65,227.29 L193.90,227.30 L194.15,227.30 L194.40,227.31 L194.65,227.31 L194.90,227.31 L195.15,227.32 L195.40,227.32 L195.65,227.32 L195.90,227.32 L196.15,227.33 L196.40,227.33 L196.65,227.33 L196.90,227.33 L197.15,227.34 L197.40,227.34 L197.65,227.34 L197.90,227.34 L198.15,227.34 L198.40,227.34 L198.65,227.34 L198.90,227.34 L199.15,227.34 L199.40,227.33 L199.65,227.33 L199.90,227.33 L200.15,227.32 L200.40,227.32 L200.65,227.31 L200.90,227.30 L201.15,227.29 L201.40,227.28 L201.65,227.27 L201.90,227.25 L202.15,227.23 L202.40,227.21 L202.65,227.19 L202.90,227.16 L203.15,227.13 L203.40,227.10 L203.65,227.07 L203.90,227.03 L204.15,226.98 L204.40,226.93 L204.65,226.88 L204.90,226.82 L205.15,226.76 L205.40,226.70 L205.65,226.63 L205.90,226.55 L206.15,226.47 L206.40,226.39 L206.65,226.30 L206.90,226.21 L207.15,226.12 L207.40,226.02 L207.65,225.92 L207.90,225.82 L208.15,225.72 L208.40,225.62 L208.65,225.52 L208.90,225.42 L209.15,225.33 L209.40,225.23 L209.65,225.15 L209.90,225.07 L210.15,224.99 L210.40,224.93 L210.65,224.87 L210.90,224.83 L211.15,224.79 L211.40,224.77 L211.65,224.76 L211.90,224.76 L212.15,224.77 L212.40,224.79 L212.65,224.82 L212.90,224.87 L213.15,224.91 L213.40,224.97 L213.65,225.03 L213.90,225.09 L214.15,225.16 L214.40,225.23 L214.65,225.30 L214.90,225.37 L215.15,225.44 L215.40,225.51 L215.65,225.57 L215.90,225.63 L216.15,225.69 L216.40,225.74 L216.65,225.78 L216.90,225.82 L217.15,225.85 L217.40,225.88 L217.65,225.90 L217.90,225.91 L218.15,225.92 L218.40,225.91 L218.65,225.90 L218.90,225.88 L219.15,225.86 L219.40,225.82 L219.65,225.78 L219.90,225.73 L220.15,225.67 L220.40,225.60 L220.65,225.52 L220.90,225.43 L221.15,225.33 L221.40,225.22 L221.65,225.09 L221.90,224.96 L222.15,224.81 L222.40,224.64 L222.65,224.46 L222.90,224.26 L223.15,224.03 L223.40,223.79 L223.65,223.52 L223.90,223.21 L224.15,222.88 L224.40,222.50 L224.65,222.09 L224.90,221.63 L225.15,221.11 L225.40,220.54 L225.65,219.90 L225.90,219.19 L226.15,218.41 L226.40,217.53 L226.65,216.57 L226.90,215.51 L227.15,214.35 L227.40,213.07 L227.65,211.68 L227.90,210.18 L228.15,208.56 L228.40,206.82 L228.65,204.97 L228.90,203.02 L229.15,200.99 L229.40,198.90 L229.65,196.79 L229.90,194.71 L230.15,192.72 L230.40,190.88 L230.65,189.27 L230.90,187.96 L231.15,187.02 L231.40,186.50 L231.65,186.44 L231.90,186.82 L232.15,187.62 L232.40,188.79 L232.65,190.26 L232.90,191.95 L233.15,193.80 L233.40,195.74 L233.65,197.72 L233.90,199.68 L234.15,201.61 L234.40,203.47 L234.65,205.25 L234.90,206.93 L235.15,208.52 L235.40,210.00 L235.65,211.38 L235.90,212.67 L236.15,213.85 L236.40,214.94 L236.65,215.94 L236.90,216.86 L237.15,217.70 L237.40,218.47 L237.65,219.17 L237.90,219.81 L238.15,220.39 L238.40,220.92 L238.65,221.41 L238.90,221.85 L239.15,222.25 L239.40,222.61 L239.65,222.94 L239.90,223.24 L240.15,223.52 L240.40,223.76 L240.65,223.99 L240.90,224.19 L241.15,224.37 L241.40,224.53 L241.65,224.68 L241.90,224.81 L242.15,224.92 L242.40,225.02 L242.65,225.11 L242.90,225.18 L243.15,225.23 L243.40,225.28 L243.65,225.31 L243.90,225.33 L244.15,225.34 L244.40,225.34 L244.65,225.32 L244.90,225.30 L245.15,225.25 L245.40,225.20 L245.65,225.13 L245.90,225.05 L246.15,224.94 L246.40,224.83 L246.65,224.69 L246.90,224.53 L247.15,224.35 L247.40,224.14 L247.65,223.90 L247.90,223.63 L248.15,223.32 L248.40,222.97 L248.65,222.57 L248.90,222.12 L249.15,221.59 L249.40,220.98 L249.65,220.28 L249.90,219.45 L250.15,218.48 L250.40,217.34 L250.65,215.98 L250.90,214.36 L251.15,212.42 L251.40,210.09 L251.65,207.31 L251.90,204.00 L252.15,200.08 L252.40,195.48 L252.65,190.17 L252.90,184.19 L253.15,177.67 L253.40,170.97 L253.65,164.68 L253.90,159.60 L254.15,156.62 L254.40,156.35 L254.65,158.86 L254.90,163.61 L255.15,169.77 L255.40,176.48 L255.65,183.09 L255.90,189.23 L256.15,194.71 L256.40,199.48 L256.65,203.57 L256.90,207.03 L257.15,209.94 L257.40,212.38 L257.65,214.42 L257.90,216.12 L258.15,217.56 L258.40,218.77 L258.65,219.79 L258.90,220.66 L259.15,221.41 L259.40,222.05 L259.65,222.61 L259.90,223.09 L260.15,223.52 L260.40,223.88 L260.65,224.21 L260.90,224.49 L261.15,224.73 L261.40,224.94 L261.65,225.12 L261.90,225.27 L262.15,225.39 L262.40,225.49 L262.65,225.57 L262.90,225.63 L263.15,225.67 L263.40,225.69 L263.65,225.69 L263.90,225.67 L264.15,225.63 L264.40,225.58 L264.65,225.51 L264.90,225.43 L265.15,225.32 L265.40,225.21 L265.65,225.08 L265.90,224.93 L266.15,224.77 L266.40,224.60 L266.65,224.41 L266.90,224.21 L267.15,224.00 L267.40,223.78 L267.65,223.55 L267.90,223.30 L268.15,223.05 L268.40,222.79 L268.65,222.52 L268.90,222.25 L269.15,221.97 L269.40,221.68 L269.65,221.40 L269.90,221.11 L270.15,220.82 L270.40,220.54 L270.65,220.26 L270.90,219.98 L271.15,219.71 L271.40,219.45 L271.65,219.20 L271.90,218.96 L272.15,218.73 L272.40,218.52 L272.65,218.33 L272.90,218.15 L273.15,218.00 L273.40,217.87 L273.65,217.76 L273.90,217.67 L274.15,217.61 L274.40,217.58 L274.65,217.57 L274.90,217.59 L275.15,217.64 L275.40,217.71 L275.65,217.81 L275.90,217.94 L276.15,218.09 L276.40,218.26 L276.65,218.46 L276.90,218.67 L277.15,218.91 L277.40,219.17 L277.65,219.44 L277.90,219.72 L278.15,220.02 L278.40,220.33 L278.65,220.65 L278.90,220.97 L279.15,221.31 L279.40,221.64 L279.65,221.98 L279.90,222.32 L280.15,222.67 L280.40,223.01 L280.65,223.34 L280.90,223.68 L281.15,224.01 L281.40,224.34 L281.65,224.66 L281.90,224.97 L282.15,225.27 L282.40,225.57 L282.65,225.86 L282.90,226.14 L283.15,226.40 L283.40,226.66 L283.65,226.91 L283.90,227.15 L284.15,227.38 L284.40,227.59 L284.65,227.80 L284.90,228.00 L285.15,228.18 L285.40,228.36 L285.65,228.53 L285.90,228.69 L286.15,228.83 L286.40,228.97 L286.65,229.10 L286.90,229.23 L287.15,229.34 L287.40,229.45 L287.65,229.55 L287.90,229.64 L288.15,229.73 L288.40,229.81 L288.65,229.89 L288.90,229.96 L289.15,230.03 L289.40,230.09 L289.65,230.15 L289.90,230.20 L290.15,230.25 L290.40,230.30 L290.65,230.34 L290.90,230.38 L291.15,230.42 L291.40,230.46 L291.65,230.49 L291.90,230.52 L292.15,230.55 L292.40,230.58 L292.65,230.61 L292.90,230.63 L293.15,230.66 L293.40,230.68 L293.65,230.70 L293.90,230.72 L294.15,230.74 L294.40,230.76 L294.65,230.78 L294.90,230.80 L295.15,230.82 L295.40,230.84 L295.65,230.86 L295.90,230.87 L296.15,230.89 L296.40,230.91 L296.65,230.92 L296.90,230.94 L297.15,230.95 L297.40,230.97 L297.65,230.98 L297.90,231.00" stroke="#d42020" stroke-width="1.6" fill="none"/>
<g fill="#1a0a0a"><circle cx="192.90" cy="227.28" r="0.8"/><circle cx="195.15" cy="227.32" r="0.8"/><circle cx="197.40" cy="227.34" r="0.8"/><circle cx="199.65" cy="227.33" r="0.8"/><circle cx="201.90" cy="227.25" r="0.8"/><circle cx="204.15" cy="226.98" r="0.8"/><circle cx="206.40" cy="226.39" r="0.8"/><circle cx="208.65" cy="225.52" r="0.8"/><circle cx="210.90" cy="224.83" r="0.8"/><circle cx="213.15" cy="224.91" r="0.8"/><circle cx="215.40" cy="225.51" r="0.8"/><circle cx="217.65" cy="225.90" r="0.8"/><circle cx="219.90" cy="225.73" r="0.8"/><circle cx="222.15" cy="224.81" r="0.8"/><circle cx="223.90" cy="223.21" r="0.8"/><circle cx="225.15" cy="221.11" r="0.8"/><circle cx="226.15" cy="218.41" r="0.8"/><circle cx="226.90" cy="215.51" r="0.8"/><circle cx="227.40" cy="213.07" r="0.8"/><circle cx="227.90" cy="210.18" r="0.8"/><circle cx="228.40" cy="206.82" r="0.8"/><circle cx="228.90" cy="203.02" r="0.8"/><circle cx="229.40" cy="198.90" r="0.8"/><circle cx="229.90" cy="194.71" r="0.8"/><circle cx="230.40" cy="190.88" r="0.8"/><circle cx="230.90" cy="187.96" r="0.8"/><circle cx="231.90" cy="186.82" r="0.8"/><circle cx="232.65" cy="190.26" r="0.8"/><circle cx="233.15" cy="193.80" r="0.8"/><circle cx="233.65" cy="197.72" r="0.8"/><circle cx="234.15" cy="201.61" r="0.8"/><circle cx="234.65" cy="205.25" r="0.8"/><circle cx="235.15" cy="208.52" r="0.8"/><circle cx="235.65" cy="211.38" r="0.8"/><circle cx="236.15" cy="213.85" r="0.8"/><circle cx="236.90" cy="216.86" r="0.8"/><circle cx="237.65" cy="219.17" r="0.8"/><circle cx="238.65" cy="221.41" r="0.8"/><circle cx="239.90" cy="223.24" r="0.8"/><circle cx="241.65" cy="224.68" r="0.8"/><circle cx="243.90" cy="225.33" r="0.8"/><circle cx="246.15" cy="224.94" r="0.8"/><circle cx="247.90" cy="223.63" r="0.8"/><circle cx="249.15" cy="221.59" r="0.8"/><circle cx="249.90" cy="219.45" r="0.8"/><circle cx="250.65" cy="215.98" r="0.8"/><circle cx="251.15" cy="212.42" r="0.8"/><circle cx="251.40" cy="210.09" r="0.8"/><circle cx="251.65" cy="207.31" r="0.8"/><circle cx="251.90" cy="204.00" r="0.8"/><circle cx="252.15" cy="200.08" r="0.8"/><circle cx="252.40" cy="195.48" r="0.8"/><circle cx="252.65" cy="190.17" r="0.8"/><circle cx="252.90" cy="184.19" r="0.8"/><circle cx="253.15" cy="177.67" r="0.8"/><circle cx="253.40" cy="170.97" r="0.8"/><circle cx="253.65" cy="164.68" r="0.8"/><circle cx="253.90" cy="159.60" r="0.8"/><circle cx="254.15" cy="156.62" r="0.8"/><circle cx="254.65" cy="158.86" r="0.8"/><circle cx="254.90" cy="163.61" r="0.8"/><circle cx="255.15" cy="169.77" r="0.8"/><circle cx="255.40" cy="176.48" r="0.8"/><circle cx="255.65" cy="183.09" r="0.8"/><circle cx="255.90" cy="189.23" r="0.8"/><circle cx="256.15" cy="194.71" r="0.8"/><circle cx="256.40" cy="199.48" r="0.8"/><circle cx="256.65" cy="203.57" r="0.8"/><circle cx="256.90" cy="207.03" r="0.8"/><circle cx="257.15" cy="209.94" r="0.8"/><circle cx="257.40" cy="212.38" r="0.8"/><circle cx="257.90" cy="216.12" r="0.8"/><circle cx="258.40" cy="218.77" r="0.8"/><circle cx="259.15" cy="221.41" r="0.8"/><circle cx="260.15" cy="223.52" r="0.8"/><circle cx="261.65" cy="225.12" r="0.8"/><circle cx="263.90" cy="225.67" r="0.8"/><circle cx="266.15" cy="224.77" r="0.8"/><circle cx="267.90" cy="223.30" r="0.8"/><circle cx="269.40" cy="221.68" r="0.8"/><circle cx="270.90" cy="219.98" r="0.8"/><circle cx="272.65" cy="218.33" r="0.8"/><circle cx="274.90" cy="217.59" r="0.8"/><circle cx="276.90" cy="218.67" r="0.8"/><circle cx="278.40" cy="220.33" r="0.8"/><circle cx="279.90" cy="222.32" r="0.8"/><circle cx="281.40" cy="224.34" r="0.8"/><circle cx="282.90" cy="226.14" r="0.8"/><circle cx="284.65" cy="227.80" r="0.8"/><circle cx="286.65" cy="229.10" r="0.8"/><circle cx="288.90" cy="229.96" r="0.8"/><circle cx="291.15" cy="230.42" r="0.8"/><circle cx="293.40" cy="230.68" r="0.8"/><circle cx="295.65" cy="230.86" r="0.8"/><circle cx="297.90" cy="231.00" r="0.8"/></g>
<rect x="192.4" y="138.5" width="106.49999999999997" height="101.6" fill="none" stroke="#909090" stroke-width="0.8"/>
<path d="M204.00,240.1 v-2.2 M204.00,138.5 v2.2 M219.00,240.1 v-2.2 M219.00,138.5 v2.2 M234.00,240.1 v-2.2 M234.00,138.5 v2.2 M249.00,240.1 v-2.2 M249.00,138.5 v2.2 M264.00,240.1 v-2.2 M264.00,138.5 v2.2 M279.00,240.1 v-2.2 M279.00,138.5 v2.2 M294.00,240.1 v-2.2 M294.00,138.5 v2.2 M196.50,240.1 v-1.2 M196.50,138.5 v1.2 M204.00,240.1 v-1.2 M204.00,138.5 v1.2 M211.50,240.1 v-1.2 M211.50,138.5 v1.2 M219.00,240.1 v-1.2 M219.00,138.5 v1.2 M226.50,240.1 v-1.2 M226.50,138.5 v1.2 M234.00,240.1 v-1.2 M234.00,138.5 v1.2 M241.50,240.1 v-1.2 M241.50,138.5 v1.2 M249.00,240.1 v-1.2 M249.00,138.5 v1.2 M256.50,240.1 v-1.2 M256.50,138.5 v1.2 M264.00,240.1 v-1.2 M264.00,138.5 v1.2 M271.50,240.1 v-1.2 M271.50,138.5 v1.2 M279.00,240.1 v-1.2 M279.00,138.5 v1.2 M286.50,240.1 v-1.2 M286.50,138.5 v1.2 M294.00,240.1 v-1.2 M294.00,138.5 v1.2" stroke="#8c8c8c" stroke-width="0.6" fill="none"/>
<text x="204.0" y="249.2" font-size="8.2" fill="#1a1a1a" font-weight="normal" text-anchor="middle"  stroke="#1a1a1a" stroke-width="0.16">238</text>
<text x="234.0" y="249.2" font-size="8.2" fill="#1a1a1a" font-weight="normal" text-anchor="middle"  stroke="#1a1a1a" stroke-width="0.16">234</text>
<text x="264.0" y="249.2" font-size="8.2" fill="#1a1a1a" font-weight="normal" text-anchor="middle"  stroke="#1a1a1a" stroke-width="0.16">230</text>
<text x="294.0" y="249.2" font-size="8.2" fill="#1a1a1a" font-weight="normal" text-anchor="middle"  stroke="#1a1a1a" stroke-width="0.16">226</text>
<text x="206.6" y="258.8" font-size="9.0" fill="#1a1a1a" font-weight="normal" text-anchor="start" textLength="75" lengthAdjust="spacingAndGlyphs"  stroke="#1a1a1a" stroke-width="0.16">Binding Energy (eV)</text>
<text transform="translate(186.5,224.6) rotate(-90)" font-size="8.6" fill="#1a1a1a" stroke="#1a1a1a" stroke-width="0.2" textLength="77" lengthAdjust="spacingAndGlyphs">Intensity (arb. units)</text>
<path d="M188.4,236.9 L190.6,235.6 L190.6,238.2 Z" fill="#999"/>
<path d="M211.3,167.4 V164.4 H233.6 V167.4" stroke="#3aa03a" stroke-width="0.9" fill="none"/>
<path d="M231.8,152.9 V149.6 H254.6 V152.9" stroke="#3aa03a" stroke-width="0.9" fill="none"/>
<text x="213.8" y="161.6" font-size="7" fill="#3aa03a" textLength="19.2" lengthAdjust="spacingAndGlyphs" stroke="#3aa03a" stroke-width="0.16">MoO<tspan font-size="4.6" dy="1.3">3</tspan></text>
<text x="237" y="147.3" font-size="7" fill="#3aa03a" textLength="16.6" lengthAdjust="spacingAndGlyphs" stroke="#3aa03a" stroke-width="0.16">MoS<tspan font-size="4.6" dy="1.3">2</tspan></text>
<text x="266" y="149.4" font-size="8.8" fill="#111" font-weight="bold" textLength="26.6" lengthAdjust="spacingAndGlyphs" stroke="#111" stroke-width="0.05">Mo 3d</text>
<text x="259.5" y="161.2" font-size="7.6" fill="#111" stroke="#111" stroke-width="0.16">3<tspan font-style="italic">d</tspan><tspan font-size="4.8" dy="1.5">5/2</tspan></text>
<text x="230.8" y="182.6" font-size="7.6" fill="#111" stroke="#111" stroke-width="0.16">3<tspan font-style="italic">d</tspan><tspan font-size="4.8" dy="1.5">3/2</tspan></text>
<text x="270" y="212.9" font-size="7.4" fill="#111" font-weight="normal" text-anchor="start" textLength="12.7" lengthAdjust="spacingAndGlyphs"  stroke="#111" stroke-width="0.16">S 2s</text>
<path d="M312.10,235.50 L312.10,235.33 L312.35,235.33 L312.60,235.33 L312.85,235.33 L313.10,235.32 L313.35,235.32 L313.60,235.32 L313.85,235.32 L314.10,235.32 L314.35,235.32 L314.60,235.31 L314.85,235.31 L315.10,235.31 L315.35,235.31 L315.60,235.30 L315.85,235.30 L316.10,235.30 L316.35,235.30 L316.60,235.30 L316.85,235.29 L317.10,235.29 L317.35,235.29 L317.60,235.29 L317.85,235.28 L318.10,235.28 L318.35,235.28 L318.60,235.28 L318.85,235.27 L319.10,235.27 L319.35,235.27 L319.60,235.27 L319.85,235.26 L320.10,235.26 L320.35,235.26 L320.60,235.25 L320.85,235.25 L321.10,235.25 L321.35,235.24 L321.60,235.24 L321.85,235.24 L322.10,235.23 L322.35,235.23 L322.60,235.23 L322.85,235.22 L323.10,235.22 L323.35,235.22 L323.60,235.21 L323.85,235.21 L324.10,235.20 L324.35,235.20 L324.60,235.20 L324.85,235.19 L325.10,235.19 L325.35,235.18 L325.60,235.18 L325.85,235.17 L326.10,235.17 L326.35,235.16 L326.60,235.16 L326.85,235.15 L327.10,235.15 L327.35,235.14 L327.60,235.14 L327.85,235.13 L328.10,235.13 L328.35,235.12 L328.60,235.11 L328.85,235.11 L329.10,235.10 L329.35,235.09 L329.60,235.09 L329.85,235.08 L330.10,235.07 L330.35,235.07 L330.60,235.06 L330.85,235.05 L331.10,235.04 L331.35,235.03 L331.60,235.03 L331.85,235.02 L332.10,235.01 L332.35,235.00 L332.60,234.99 L332.85,234.98 L333.10,234.97 L333.35,234.96 L333.60,234.95 L333.85,234.94 L334.10,234.92 L334.35,234.91 L334.60,234.90 L334.85,234.89 L335.10,234.87 L335.35,234.86 L335.60,234.85 L335.85,234.83 L336.10,234.82 L336.35,234.80 L336.60,234.78 L336.85,234.77 L337.10,234.75 L337.35,234.73 L337.60,234.71 L337.85,234.69 L338.10,234.67 L338.35,234.65 L338.60,234.62 L338.85,234.60 L339.10,234.57 L339.35,234.55 L339.60,234.52 L339.85,234.49 L340.10,234.45 L340.35,234.42 L340.60,234.38 L340.85,234.34 L341.10,234.29 L341.35,234.24 L341.60,234.19 L341.85,234.13 L342.10,234.06 L342.35,233.98 L342.60,233.90 L342.85,233.81 L343.10,233.70 L343.35,233.58 L343.60,233.45 L343.85,233.30 L344.10,233.13 L344.35,232.93 L344.60,232.72 L344.85,232.47 L345.10,232.20 L345.35,231.89 L345.60,231.55 L345.85,231.17 L346.10,230.74 L346.35,230.27 L346.60,229.76 L346.85,229.19 L347.10,228.57 L347.35,227.90 L347.60,227.17 L347.85,226.38 L348.10,225.54 L348.35,224.64 L348.60,223.69 L348.85,222.69 L349.10,221.64 L349.35,220.54 L349.60,219.41 L349.85,218.25 L350.10,217.07 L350.35,215.87 L350.60,214.66 L350.85,213.47 L351.10,212.29 L351.35,211.15 L351.60,210.06 L351.85,209.04 L352.10,208.09 L352.35,207.24 L352.60,206.51 L352.85,205.90 L353.10,205.43 L353.35,205.12 L353.60,204.96 L353.85,204.97 L354.10,205.13 L354.35,205.46 L354.60,205.93 L354.85,206.54 L355.10,207.28 L355.35,208.12 L355.60,209.06 L355.85,210.08 L356.10,211.16 L356.35,212.28 L356.60,213.44 L356.85,214.61 L357.10,215.79 L357.35,216.96 L357.60,218.11 L357.85,219.24 L358.10,220.34 L358.35,221.40 L358.60,222.41 L358.85,223.38 L359.10,224.29 L359.35,225.14 L359.60,225.94 L359.85,226.69 L360.10,227.37 L360.35,228.00 L360.60,228.57 L360.85,229.10 L361.10,229.57 L361.35,229.99 L361.60,230.36 L361.85,230.69 L362.10,230.99 L362.35,231.24 L362.60,231.46 L362.85,231.65 L363.10,231.81 L363.35,231.94 L363.60,232.05 L363.85,232.13 L364.10,232.19 L364.35,232.24 L364.60,232.26 L364.85,232.26 L365.10,232.25 L365.35,232.22 L365.60,232.17 L365.85,232.10 L366.10,232.01 L366.35,231.90 L366.60,231.77 L366.85,231.61 L367.10,231.42 L367.35,231.20 L367.60,230.94 L367.85,230.64 L368.10,230.30 L368.35,229.91 L368.60,229.47 L368.85,228.96 L369.10,228.39 L369.35,227.75 L369.60,227.03 L369.85,226.23 L370.10,225.33 L370.35,224.34 L370.60,223.26 L370.85,222.06 L371.10,220.76 L371.35,219.35 L371.60,217.83 L371.85,216.19 L372.10,214.44 L372.35,212.59 L372.60,210.62 L372.85,208.57 L373.10,206.42 L373.35,204.20 L373.60,201.91 L373.85,199.57 L374.10,197.20 L374.35,194.82 L374.60,192.45 L374.85,190.11 L375.10,187.84 L375.35,185.66 L375.60,183.60 L375.85,181.70 L376.10,179.99 L376.35,178.50 L376.60,177.26 L376.85,176.29 L377.10,175.63 L377.35,175.28 L377.60,175.25 L377.85,175.55 L378.10,176.16 L378.35,177.08 L378.60,178.28 L378.85,179.74 L379.10,181.42 L379.35,183.30 L379.60,185.34 L379.85,187.50 L380.10,189.77 L380.35,192.11 L380.60,194.49 L380.85,196.88 L381.10,199.27 L381.35,201.63 L381.60,203.94 L381.85,206.19 L382.10,208.37 L382.35,210.46 L382.60,212.45 L382.85,214.35 L383.10,216.13 L383.35,217.81 L383.60,219.37 L383.85,220.82 L384.10,222.16 L384.35,223.39 L384.60,224.52 L384.85,225.54 L385.10,226.47 L385.35,227.31 L385.60,228.07 L385.85,228.75 L386.10,229.36 L386.35,229.90 L386.60,230.38 L386.85,230.81 L387.10,231.18 L387.35,231.52 L387.60,231.82 L387.85,232.08 L388.10,232.31 L388.35,232.51 L388.60,232.70 L388.85,232.86 L389.10,233.00 L389.35,233.13 L389.60,233.25 L389.85,233.35 L390.10,233.45 L390.35,233.53 L390.60,233.61 L390.85,233.68 L391.10,233.75 L391.35,233.81 L391.60,233.87 L391.85,233.92 L392.10,233.97 L392.35,234.02 L392.60,234.07 L392.85,234.11 L393.10,234.15 L393.35,234.19 L393.60,234.22 L393.85,234.26 L394.10,234.29 L394.35,234.33 L394.60,234.36 L394.85,234.39 L395.10,234.41 L395.35,234.44 L395.60,234.47 L395.85,234.49 L396.10,234.52 L396.35,234.54 L396.60,234.56 L396.85,234.59 L397.10,234.61 L397.35,234.63 L397.60,234.65 L397.85,234.67 L398.10,234.68 L398.35,234.70 L398.60,234.72 L398.85,234.73 L399.10,234.75 L399.35,234.77 L399.60,234.78 L399.85,234.80 L400.10,234.81 L400.35,234.82 L400.60,234.84 L400.85,234.85 L401.10,234.86 L401.35,234.87 L401.60,234.89 L401.85,234.90 L402.10,234.91 L402.35,234.92 L402.60,234.93 L402.85,234.94 L403.10,234.95 L403.35,234.96 L403.60,234.97 L403.85,234.98 L404.10,234.99 L404.35,235.00 L404.60,235.01 L404.85,235.01 L405.10,235.02 L405.35,235.03 L405.60,235.04 L405.85,235.04 L406.10,235.05 L406.35,235.06 L406.60,235.07 L406.85,235.07 L407.10,235.08 L407.35,235.09 L407.60,235.09 L407.85,235.10 L408.10,235.10 L408.35,235.11 L408.60,235.12 L408.85,235.12 L409.10,235.13 L409.35,235.13 L409.60,235.14 L409.85,235.14 L410.10,235.15 L410.35,235.15 L410.60,235.16 L410.85,235.16 L411.10,235.17 L411.35,235.17 L411.60,235.18 L411.85,235.18 L412.10,235.19 L412.35,235.19 L412.60,235.19 L412.85,235.20 L413.10,235.20 L413.35,235.21 L413.60,235.21 L413.85,235.21 L413.85,235.50 Z" fill="#f7c56a"/>
<path d="M312.10,235.50 L312.10,235.46 L312.35,235.45 L312.60,235.45 L312.85,235.45 L313.10,235.45 L313.35,235.45 L313.60,235.45 L313.85,235.45 L314.10,235.45 L314.35,235.45 L314.60,235.45 L314.85,235.45 L315.10,235.45 L315.35,235.45 L315.60,235.45 L315.85,235.45 L316.10,235.45 L316.35,235.45 L316.60,235.44 L316.85,235.44 L317.10,235.44 L317.35,235.44 L317.60,235.44 L317.85,235.44 L318.10,235.44 L318.35,235.44 L318.60,235.44 L318.85,235.44 L319.10,235.44 L319.35,235.44 L319.60,235.43 L319.85,235.43 L320.10,235.43 L320.35,235.43 L320.60,235.43 L320.85,235.43 L321.10,235.43 L321.35,235.43 L321.60,235.43 L321.85,235.43 L322.10,235.42 L322.35,235.42 L322.60,235.42 L322.85,235.42 L323.10,235.42 L323.35,235.42 L323.60,235.42 L323.85,235.42 L324.10,235.41 L324.35,235.41 L324.60,235.41 L324.85,235.41 L325.10,235.41 L325.35,235.41 L325.60,235.40 L325.85,235.40 L326.10,235.40 L326.35,235.40 L326.60,235.40 L326.85,235.40 L327.10,235.39 L327.35,235.39 L327.60,235.39 L327.85,235.39 L328.10,235.39 L328.35,235.38 L328.60,235.38 L328.85,235.38 L329.10,235.38 L329.35,235.37 L329.60,235.37 L329.85,235.37 L330.10,235.36 L330.35,235.36 L330.60,235.36 L330.85,235.35 L331.10,235.35 L331.35,235.35 L331.60,235.34 L331.85,235.34 L332.10,235.34 L332.35,235.33 L332.60,235.33 L332.85,235.32 L333.10,235.32 L333.35,235.31 L333.60,235.31 L333.85,235.30 L334.10,235.29 L334.35,235.29 L334.60,235.28 L334.85,235.27 L335.10,235.26 L335.35,235.25 L335.60,235.24 L335.85,235.22 L336.10,235.21 L336.35,235.19 L336.60,235.17 L336.85,235.15 L337.10,235.13 L337.35,235.10 L337.60,235.07 L337.85,235.03 L338.10,234.99 L338.35,234.95 L338.60,234.90 L338.85,234.84 L339.10,234.77 L339.35,234.70 L339.60,234.61 L339.85,234.52 L340.10,234.42 L340.35,234.30 L340.60,234.17 L340.85,234.03 L341.10,233.88 L341.35,233.71 L341.60,233.53 L341.85,233.33 L342.10,233.12 L342.35,232.89 L342.60,232.64 L342.85,232.38 L343.10,232.11 L343.35,231.82 L343.60,231.52 L343.85,231.21 L344.10,230.89 L344.35,230.56 L344.60,230.23 L344.85,229.89 L345.10,229.56 L345.35,229.22 L345.60,228.89 L345.85,228.57 L346.10,228.26 L346.35,227.97 L346.60,227.69 L346.85,227.44 L347.10,227.22 L347.35,227.02 L347.60,226.86 L347.85,226.73 L348.10,226.65 L348.35,226.60 L348.60,226.59 L348.85,226.63 L349.10,226.70 L349.35,226.82 L349.60,226.97 L349.85,227.15 L350.10,227.37 L350.35,227.61 L350.60,227.87 L350.85,228.16 L351.10,228.46 L351.35,228.78 L351.60,229.10 L351.85,229.43 L352.10,229.76 L352.35,230.10 L352.60,230.43 L352.85,230.75 L353.10,231.07 L353.35,231.38 L353.60,231.67 L353.85,231.96 L354.10,232.23 L354.35,232.48 L354.60,232.73 L354.85,232.95 L355.10,233.16 L355.35,233.36 L355.60,233.54 L355.85,233.70 L356.10,233.85 L356.35,233.99 L356.60,234.11 L356.85,234.22 L357.10,234.32 L357.35,234.41 L357.60,234.48 L357.85,234.55 L358.10,234.61 L358.35,234.66 L358.60,234.70 L358.85,234.73 L359.10,234.76 L359.35,234.78 L359.60,234.80 L359.85,234.81 L360.10,234.82 L360.35,234.82 L360.60,234.82 L360.85,234.81 L361.10,234.79 L361.35,234.77 L361.60,234.75 L361.85,234.72 L362.10,234.68 L362.35,234.63 L362.60,234.58 L362.85,234.51 L363.10,234.44 L363.35,234.35 L363.60,234.25 L363.85,234.14 L364.10,234.01 L364.35,233.87 L364.60,233.71 L364.85,233.52 L365.10,233.32 L365.35,233.09 L365.60,232.84 L365.85,232.56 L366.10,232.26 L366.35,231.93 L366.60,231.57 L366.85,231.18 L367.10,230.76 L367.35,230.31 L367.60,229.83 L367.85,229.32 L368.10,228.79 L368.35,228.23 L368.60,227.64 L368.85,227.04 L369.10,226.42 L369.35,225.79 L369.60,225.14 L369.85,224.49 L370.10,223.85 L370.35,223.21 L370.60,222.58 L370.85,221.97 L371.10,221.39 L371.35,220.84 L371.60,220.33 L371.85,219.87 L372.10,219.46 L372.35,219.12 L372.60,218.84 L372.85,218.63 L373.10,218.50 L373.35,218.45 L373.60,218.47 L373.85,218.57 L374.10,218.75 L374.35,219.01 L374.60,219.33 L374.85,219.71 L375.10,220.16 L375.35,220.65 L375.60,221.19 L375.85,221.76 L376.10,222.36 L376.35,222.98 L376.60,223.62 L376.85,224.27 L377.10,224.92 L377.35,225.57 L377.60,226.21 L377.85,226.84 L378.10,227.45 L378.35,228.04 L378.60,228.62 L378.85,229.16 L379.10,229.68 L379.35,230.18 L379.60,230.64 L379.85,231.08 L380.10,231.48 L380.35,231.86 L380.60,232.20 L380.85,232.52 L381.10,232.81 L381.35,233.08 L381.60,233.32 L381.85,233.54 L382.10,233.73 L382.35,233.91 L382.60,234.06 L382.85,234.20 L383.10,234.33 L383.35,234.43 L383.60,234.53 L383.85,234.62 L384.10,234.69 L384.35,234.76 L384.60,234.81 L384.85,234.87 L385.10,234.91 L385.35,234.95 L385.60,234.98 L385.85,235.01 L386.10,235.04 L386.35,235.07 L386.60,235.09 L386.85,235.11 L387.10,235.12 L387.35,235.14 L387.60,235.15 L387.85,235.17 L388.10,235.18 L388.35,235.19 L388.60,235.20 L388.85,235.21 L389.10,235.22 L389.35,235.23 L389.60,235.23 L389.85,235.24 L390.10,235.25 L390.35,235.26 L390.60,235.26 L390.85,235.27 L391.10,235.27 L391.35,235.28 L391.60,235.28 L391.85,235.29 L392.10,235.30 L392.35,235.30 L392.60,235.30 L392.85,235.31 L393.10,235.31 L393.35,235.32 L393.60,235.32 L393.85,235.33 L394.10,235.33 L394.35,235.33 L394.60,235.34 L394.85,235.34 L395.10,235.34 L395.35,235.35 L395.60,235.35 L395.85,235.35 L396.10,235.36 L396.35,235.36 L396.60,235.36 L396.85,235.36 L397.10,235.37 L397.35,235.37 L397.60,235.37 L397.85,235.37 L398.10,235.38 L398.35,235.38 L398.60,235.38 L398.85,235.38 L399.10,235.39 L399.35,235.39 L399.60,235.39 L399.85,235.39 L400.10,235.39 L400.35,235.39 L400.60,235.40 L400.85,235.40 L401.10,235.40 L401.35,235.40 L401.60,235.40 L401.85,235.40 L402.10,235.41 L402.35,235.41 L402.60,235.41 L402.85,235.41 L403.10,235.41 L403.35,235.41 L403.60,235.41 L403.85,235.42 L404.10,235.42 L404.35,235.42 L404.60,235.42 L404.85,235.42 L405.10,235.42 L405.35,235.42 L405.60,235.42 L405.85,235.43 L406.10,235.43 L406.35,235.43 L406.60,235.43 L406.85,235.43 L407.10,235.43 L407.35,235.43 L407.60,235.43 L407.85,235.43 L408.10,235.43 L408.35,235.43 L408.60,235.44 L408.85,235.44 L409.10,235.44 L409.35,235.44 L409.60,235.44 L409.85,235.44 L410.10,235.44 L410.35,235.44 L410.60,235.44 L410.85,235.44 L411.10,235.44 L411.35,235.44 L411.60,235.44 L411.85,235.45 L412.10,235.45 L412.35,235.45 L412.60,235.45 L412.85,235.45 L413.10,235.45 L413.35,235.45 L413.60,235.45 L413.85,235.45 L413.85,235.50 Z" fill="#d8a032" opacity="0.95"/>
<path d="M312.10,228.20 L312.35,228.20 L312.60,228.21 L312.85,228.21 L313.10,228.21 L313.35,228.22 L313.60,228.22 L313.85,228.22 L314.10,228.23 L314.35,228.23 L314.60,228.23 L314.85,228.24 L315.10,228.24 L315.35,228.24 L315.60,228.24 L315.85,228.25 L316.10,228.25 L316.35,228.25 L316.60,228.26 L316.85,228.26 L317.10,228.26 L317.35,228.26 L317.60,228.27 L317.85,228.27 L318.10,228.27 L318.35,228.28 L318.60,228.28 L318.85,228.28 L319.10,228.28 L319.35,228.28 L319.60,228.29 L319.85,228.29 L320.10,228.29 L320.35,228.29 L320.60,228.29 L320.85,228.30 L321.10,228.30 L321.35,228.30 L321.60,228.30 L321.85,228.30 L322.10,228.30 L322.35,228.30 L322.60,228.31 L322.85,228.31 L323.10,228.31 L323.35,228.31 L323.60,228.31 L323.85,228.31 L324.10,228.31 L324.35,228.31 L324.60,228.31 L324.85,228.31 L325.10,228.31 L325.35,228.31 L325.60,228.31 L325.85,228.31 L326.10,228.31 L326.35,228.31 L326.60,228.31 L326.85,228.30 L327.10,228.30 L327.35,228.30 L327.60,228.30 L327.85,228.30 L328.10,228.29 L328.35,228.29 L328.60,228.29 L328.85,228.29 L329.10,228.28 L329.35,228.28 L329.60,228.28 L329.85,228.27 L330.10,228.27 L330.35,228.26 L330.60,228.26 L330.85,228.25 L331.10,228.25 L331.35,228.24 L331.60,228.23 L331.85,228.23 L332.10,228.22 L332.35,228.21 L332.60,228.20 L332.85,228.20 L333.10,228.19 L333.35,228.18 L333.60,228.16 L333.85,228.15 L334.10,228.14 L334.35,228.13 L334.60,228.11 L334.85,228.10 L335.10,228.08 L335.35,228.06 L335.60,228.04 L335.85,228.02 L336.10,227.99 L336.35,227.97 L336.60,227.94 L336.85,227.91 L337.10,227.87 L337.35,227.83 L337.60,227.78 L337.85,227.73 L338.10,227.68 L338.35,227.62 L338.60,227.55 L338.85,227.47 L339.10,227.38 L339.35,227.29 L339.60,227.18 L339.85,227.06 L340.10,226.93 L340.35,226.79 L340.60,226.63 L340.85,226.45 L341.10,226.26 L341.35,226.04 L341.60,225.81 L341.85,225.56 L342.10,225.28 L342.35,224.99 L342.60,224.66 L342.85,224.32 L343.10,223.94 L343.35,223.54 L343.60,223.12 L343.85,222.66 L344.10,222.17 L344.35,221.66 L344.60,221.11 L344.85,220.54 L345.10,219.93 L345.35,219.30 L345.60,218.63 L345.85,217.93 L346.10,217.20 L346.35,216.45 L346.60,215.66 L346.85,214.85 L347.10,214.01 L347.35,213.15 L347.60,212.26 L347.85,211.36 L348.10,210.43 L348.35,209.50 L348.60,208.54 L348.85,207.58 L349.10,206.61 L349.35,205.64 L349.60,204.66 L349.85,203.69 L350.10,202.73 L350.35,201.77 L350.60,200.84 L350.85,199.94 L351.10,199.07 L351.35,198.25 L351.60,197.49 L351.85,196.80 L352.10,196.20 L352.35,195.69 L352.60,195.29 L352.85,195.01 L353.10,194.87 L353.35,194.86 L353.60,195.01 L353.85,195.30 L354.10,195.75 L354.35,196.33 L354.60,197.05 L354.85,197.90 L355.10,198.85 L355.35,199.90 L355.60,201.02 L355.85,202.21 L356.10,203.44 L356.35,204.71 L356.60,205.99 L356.85,207.28 L357.10,208.56 L357.35,209.83 L357.60,211.06 L357.85,212.27 L358.10,213.43 L358.35,214.54 L358.60,215.60 L358.85,216.61 L359.10,217.55 L359.35,218.44 L359.60,219.26 L359.85,220.02 L360.10,220.72 L360.35,221.35 L360.60,221.93 L360.85,222.45 L361.10,222.91 L361.35,223.31 L361.60,223.67 L361.85,223.98 L362.10,224.24 L362.35,224.45 L362.60,224.62 L362.85,224.75 L363.10,224.84 L363.35,224.89 L363.60,224.91 L363.85,224.88 L364.10,224.83 L364.35,224.73 L364.60,224.60 L364.85,224.42 L365.10,224.21 L365.35,223.96 L365.60,223.67 L365.85,223.33 L366.10,222.94 L366.35,222.50 L366.60,222.01 L366.85,221.47 L367.10,220.87 L367.35,220.20 L367.60,219.47 L367.85,218.67 L368.10,217.80 L368.35,216.86 L368.60,215.83 L368.85,214.73 L369.10,213.55 L369.35,212.28 L369.60,210.92 L369.85,209.47 L370.10,207.94 L370.35,206.32 L370.60,204.61 L370.85,202.81 L371.10,200.93 L371.35,198.98 L371.60,196.95 L371.85,194.86 L372.10,192.71 L372.35,190.51 L372.60,188.28 L372.85,186.02 L373.10,183.75 L373.35,181.47 L373.60,179.22 L373.85,176.99 L374.10,174.80 L374.35,172.68 L374.60,170.64 L374.85,168.69 L375.10,166.87 L375.35,165.19 L375.60,163.68 L375.85,162.35 L376.10,161.25 L376.35,160.38 L376.60,159.79 L376.85,159.47 L377.10,159.47 L377.35,159.77 L377.60,160.39 L377.85,161.32 L378.10,162.56 L378.35,164.07 L378.60,165.85 L378.85,167.86 L379.10,170.07 L379.35,172.45 L379.60,174.96 L379.85,177.57 L380.10,180.24 L380.35,182.96 L380.60,185.69 L380.85,188.41 L381.10,191.09 L381.35,193.72 L381.60,196.28 L381.85,198.76 L382.10,201.14 L382.35,203.41 L382.60,205.56 L382.85,207.60 L383.10,209.52 L383.35,211.31 L383.60,212.97 L383.85,214.51 L384.10,215.93 L384.35,217.23 L384.60,218.42 L384.85,219.51 L385.10,220.49 L385.35,221.37 L385.60,222.17 L385.85,222.89 L386.10,223.53 L386.35,224.10 L386.60,224.61 L386.85,225.06 L387.10,225.46 L387.35,225.82 L387.60,226.13 L387.85,226.41 L388.10,226.66 L388.35,226.88 L388.60,227.08 L388.85,227.26 L389.10,227.42 L389.35,227.56 L389.60,227.69 L389.85,227.81 L390.10,227.92 L390.35,228.01 L390.60,228.11 L390.85,228.19 L391.10,228.27 L391.35,228.34 L391.60,228.41 L391.85,228.48 L392.10,228.54 L392.35,228.60 L392.60,228.65 L392.85,228.70 L393.10,228.75 L393.35,228.80 L393.60,228.85 L393.85,228.89 L394.10,228.94 L394.35,228.98 L394.60,229.02 L394.85,229.06 L395.10,229.10 L395.35,229.13 L395.60,229.17 L395.85,229.20 L396.10,229.23 L396.35,229.27 L396.60,229.30 L396.85,229.33 L397.10,229.36 L397.35,229.39 L397.60,229.41 L397.85,229.44 L398.10,229.47 L398.35,229.49 L398.60,229.52 L398.85,229.54 L399.10,229.57 L399.35,229.59 L399.60,229.61 L399.85,229.64 L400.10,229.66 L400.35,229.68 L400.60,229.70 L400.85,229.72 L401.10,229.74 L401.35,229.76 L401.60,229.78 L401.85,229.80 L402.10,229.82 L402.35,229.83 L402.60,229.85 L402.85,229.87 L403.10,229.89 L403.35,229.90 L403.60,229.92 L403.85,229.94 L404.10,229.95 L404.35,229.97 L404.60,229.98 L404.85,230.00 L405.10,230.01 L405.35,230.03 L405.60,230.04 L405.85,230.06 L406.10,230.07 L406.35,230.09 L406.60,230.10 L406.85,230.11 L407.10,230.13 L407.35,230.14 L407.60,230.15 L407.85,230.17 L408.10,230.18 L408.35,230.19 L408.60,230.20 L408.85,230.22 L409.10,230.23 L409.35,230.24 L409.60,230.25 L409.85,230.26 L410.10,230.27 L410.35,230.29 L410.60,230.30 L410.85,230.31 L411.10,230.32 L411.35,230.33 L411.60,230.34 L411.85,230.35 L412.10,230.36 L412.35,230.37 L412.60,230.38 L412.85,230.40 L413.10,230.41 L413.35,230.42 L413.60,230.43 L413.85,230.44" stroke="#d42020" stroke-width="1.6" fill="none"/>
<g fill="#1a0a0a"><circle cx="312.10" cy="228.20" r="0.8"/><circle cx="314.35" cy="228.23" r="0.8"/><circle cx="316.60" cy="228.26" r="0.8"/><circle cx="318.85" cy="228.28" r="0.8"/><circle cx="321.10" cy="228.30" r="0.8"/><circle cx="323.35" cy="228.31" r="0.8"/><circle cx="325.60" cy="228.31" r="0.8"/><circle cx="327.85" cy="228.30" r="0.8"/><circle cx="330.10" cy="228.27" r="0.8"/><circle cx="332.35" cy="228.21" r="0.8"/><circle cx="334.60" cy="228.11" r="0.8"/><circle cx="336.85" cy="227.91" r="0.8"/><circle cx="339.10" cy="227.38" r="0.8"/><circle cx="341.10" cy="226.26" r="0.8"/><circle cx="342.85" cy="224.32" r="0.8"/><circle cx="344.10" cy="222.17" r="0.8"/><circle cx="345.10" cy="219.93" r="0.8"/><circle cx="346.10" cy="217.20" r="0.8"/><circle cx="346.85" cy="214.85" r="0.8"/><circle cx="347.60" cy="212.26" r="0.8"/><circle cx="348.35" cy="209.50" r="0.8"/><circle cx="349.10" cy="206.61" r="0.8"/><circle cx="349.85" cy="203.69" r="0.8"/><circle cx="350.60" cy="200.84" r="0.8"/><circle cx="351.35" cy="198.25" r="0.8"/><circle cx="352.35" cy="195.69" r="0.8"/><circle cx="354.10" cy="195.75" r="0.8"/><circle cx="354.85" cy="197.90" r="0.8"/><circle cx="355.60" cy="201.02" r="0.8"/><circle cx="356.10" cy="203.44" r="0.8"/><circle cx="356.60" cy="205.99" r="0.8"/><circle cx="357.10" cy="208.56" r="0.8"/><circle cx="357.60" cy="211.06" r="0.8"/><circle cx="358.10" cy="213.43" r="0.8"/><circle cx="358.60" cy="215.60" r="0.8"/><circle cx="359.35" cy="218.44" r="0.8"/><circle cx="360.10" cy="220.72" r="0.8"/><circle cx="361.10" cy="222.91" r="0.8"/><circle cx="362.60" cy="224.62" r="0.8"/><circle cx="364.85" cy="224.42" r="0.8"/><circle cx="366.35" cy="222.50" r="0.8"/><circle cx="367.35" cy="220.20" r="0.8"/><circle cx="368.10" cy="217.80" r="0.8"/><circle cx="368.85" cy="214.73" r="0.8"/><circle cx="369.35" cy="212.28" r="0.8"/><circle cx="369.85" cy="209.47" r="0.8"/><circle cx="370.35" cy="206.32" r="0.8"/><circle cx="370.85" cy="202.81" r="0.8"/><circle cx="371.35" cy="198.98" r="0.8"/><circle cx="371.85" cy="194.86" r="0.8"/><circle cx="372.35" cy="190.51" r="0.8"/><circle cx="372.60" cy="188.28" r="0.8"/><circle cx="372.85" cy="186.02" r="0.8"/><circle cx="373.10" cy="183.75" r="0.8"/><circle cx="373.35" cy="181.47" r="0.8"/><circle cx="373.60" cy="179.22" r="0.8"/><circle cx="373.85" cy="176.99" r="0.8"/><circle cx="374.35" cy="172.68" r="0.8"/><circle cx="374.85" cy="168.69" r="0.8"/><circle cx="375.35" cy="165.19" r="0.8"/><circle cx="375.85" cy="162.35" r="0.8"/><circle cx="376.60" cy="159.79" r="0.8"/><circle cx="377.85" cy="161.32" r="0.8"/><circle cx="378.35" cy="164.07" r="0.8"/><circle cx="378.85" cy="167.86" r="0.8"/><circle cx="379.10" cy="170.07" r="0.8"/><circle cx="379.35" cy="172.45" r="0.8"/><circle cx="379.60" cy="174.96" r="0.8"/><circle cx="379.85" cy="177.57" r="0.8"/><circle cx="380.10" cy="180.24" r="0.8"/><circle cx="380.35" cy="182.96" r="0.8"/><circle cx="380.60" cy="185.69" r="0.8"/><circle cx="380.85" cy="188.41" r="0.8"/><circle cx="381.10" cy="191.09" r="0.8"/><circle cx="381.35" cy="193.72" r="0.8"/><circle cx="381.60" cy="196.28" r="0.8"/><circle cx="381.85" cy="198.76" r="0.8"/><circle cx="382.10" cy="201.14" r="0.8"/><circle cx="382.35" cy="203.41" r="0.8"/><circle cx="382.85" cy="207.60" r="0.8"/><circle cx="383.35" cy="211.31" r="0.8"/><circle cx="383.85" cy="214.51" r="0.8"/><circle cx="384.35" cy="217.23" r="0.8"/><circle cx="384.85" cy="219.51" r="0.8"/><circle cx="385.60" cy="222.17" r="0.8"/><circle cx="386.60" cy="224.61" r="0.8"/><circle cx="387.85" cy="226.41" r="0.8"/><circle cx="389.85" cy="227.81" r="0.8"/><circle cx="392.10" cy="228.54" r="0.8"/><circle cx="394.35" cy="228.98" r="0.8"/><circle cx="396.60" cy="229.30" r="0.8"/><circle cx="398.85" cy="229.54" r="0.8"/><circle cx="401.10" cy="229.74" r="0.8"/><circle cx="403.35" cy="229.90" r="0.8"/><circle cx="405.60" cy="230.04" r="0.8"/><circle cx="407.85" cy="230.17" r="0.8"/><circle cx="410.10" cy="230.27" r="0.8"/><circle cx="412.35" cy="230.37" r="0.8"/></g>
<rect x="311.6" y="139.3" width="103.39999999999998" height="101.1" fill="none" stroke="#909090" stroke-width="0.8"/>
<path d="M334.70,240.4 v-2.2 M334.70,139.3 v2.2 M354.30,240.4 v-2.2 M354.30,139.3 v2.2 M373.90,240.4 v-2.2 M373.90,139.3 v2.2 M393.50,240.4 v-2.2 M393.50,139.3 v2.2 M413.10,240.4 v-2.2 M413.10,139.3 v2.2 M315.10,240.4 v-1.2 M315.10,139.3 v1.2 M324.90,240.4 v-1.2 M324.90,139.3 v1.2 M334.70,240.4 v-1.2 M334.70,139.3 v1.2 M344.50,240.4 v-1.2 M344.50,139.3 v1.2 M354.30,240.4 v-1.2 M354.30,139.3 v1.2 M364.10,240.4 v-1.2 M364.10,139.3 v1.2 M373.90,240.4 v-1.2 M373.90,139.3 v1.2 M383.70,240.4 v-1.2 M383.70,139.3 v1.2 M393.50,240.4 v-1.2 M393.50,139.3 v1.2 M403.30,240.4 v-1.2 M403.30,139.3 v1.2 M413.10,240.4 v-1.2 M413.10,139.3 v1.2" stroke="#8c8c8c" stroke-width="0.6" fill="none"/>
<text x="334.7" y="249.0" font-size="8.2" fill="#1a1a1a" font-weight="normal" text-anchor="middle"  stroke="#1a1a1a" stroke-width="0.16">166</text>
<text x="373.9" y="249.0" font-size="8.2" fill="#1a1a1a" font-weight="normal" text-anchor="middle"  stroke="#1a1a1a" stroke-width="0.16">164</text>
<text x="413.09999999999997" y="249.0" font-size="8.2" fill="#1a1a1a" font-weight="normal" text-anchor="middle"  stroke="#1a1a1a" stroke-width="0.16">162</text>
<text x="324.3" y="258.8" font-size="9.0" fill="#1a1a1a" font-weight="normal" text-anchor="start" textLength="76" lengthAdjust="spacingAndGlyphs"  stroke="#1a1a1a" stroke-width="0.16">Binding Energy (eV)</text>
<text transform="translate(309,224.6) rotate(-90)" font-size="8.6" fill="#1a1a1a" stroke="#1a1a1a" stroke-width="0.2" textLength="77" lengthAdjust="spacingAndGlyphs">Intensity (arb. units)</text>
<path d="M354.8,150 V147.2 H377.9 V150" stroke="#f0b030" stroke-width="0.9" fill="none"/>
<path d="M348.8,161.8 V159.2 H372.5 V161.8" stroke="#c8902a" stroke-width="0.9" fill="none"/>
<text x="362.8" y="145.4" font-size="6.6" fill="#f0b030" font-weight="normal" text-anchor="start" textLength="7.2" lengthAdjust="spacingAndGlyphs"  stroke="#f0b030" stroke-width="0.16">S1</text>
<text x="356.2" y="157.1" font-size="6.6" fill="#c8902a" font-weight="normal" text-anchor="start" textLength="7.7" lengthAdjust="spacingAndGlyphs"  stroke="#c8902a" stroke-width="0.16">S2</text>
<text x="395" y="149" font-size="8.8" fill="#111" font-weight="bold" textLength="16.5" lengthAdjust="spacingAndGlyphs" stroke="#111" stroke-width="0.05">S 2p</text>
<text x="384" y="160.3" font-size="7.6" fill="#111" stroke="#111" stroke-width="0.16">2<tspan font-style="italic">p</tspan><tspan font-size="4.8" dy="1.5">3/2</tspan></text>
<text x="351.4" y="188.2" font-size="7.6" fill="#111" stroke="#111" stroke-width="0.16">2<tspan font-style="italic">p</tspan><tspan font-size="4.8" dy="1.5">1/2</tspan></text>
</svg>
</body></html>
